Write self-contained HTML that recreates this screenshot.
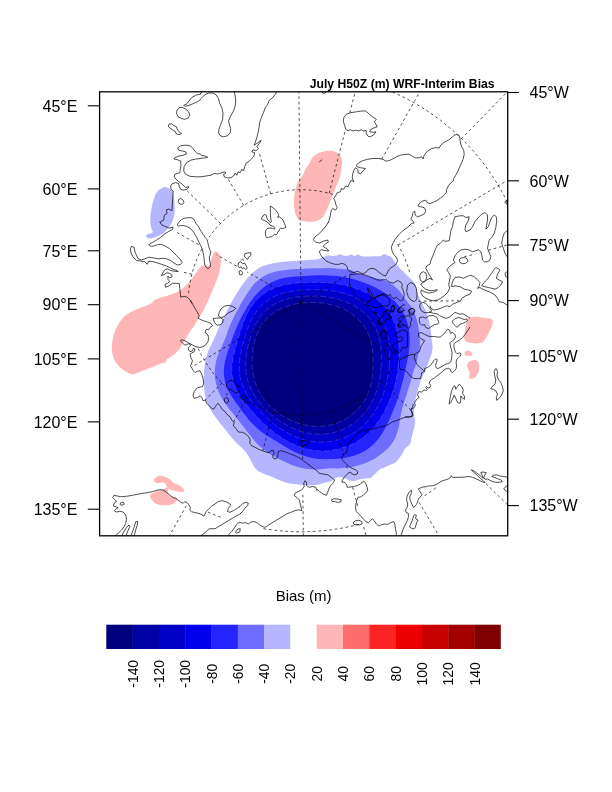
<!DOCTYPE html><html><head><meta charset="utf-8"><title>July H50Z (m) WRF-Interim Bias</title>
<style>html,body{margin:0;padding:0;background:#fff;overflow:hidden}svg{display:block}text{font-family:"Liberation Sans",sans-serif;fill:#000}</style></head><body>
<svg width="612" height="792" viewBox="0 0 612 792">
<rect width="612" height="792" fill="#fff"/>
<defs><clipPath id="fr"><rect x="99.6" y="91.8" width="408.1" height="444.0"/></clipPath></defs>
<g clip-path="url(#fr)">
<path d="M318.0 259.0C321.3 258.4 322.3 257.4 323.9 256.8C325.5 256.2 326.3 255.5 327.8 255.4C329.3 255.3 331.5 256.0 333.0 256.0C334.5 256.0 335.8 255.9 337.0 255.6C338.2 255.3 339.3 254.2 340.5 254.2C341.7 254.2 342.8 255.5 344.0 255.8C345.2 256.1 346.3 256.2 347.5 256.0C348.7 255.8 349.8 254.4 351.0 254.4C352.2 254.4 353.3 256.0 354.5 256.0C355.7 256.0 356.8 254.5 358.0 254.5C359.2 254.5 360.0 255.9 362.0 256.2C364.0 256.5 367.3 256.4 370.0 256.4C372.7 256.4 376.1 256.4 378.0 256.3C379.9 256.2 380.5 256.2 381.5 255.8C382.5 255.4 383.2 253.9 384.2 253.8C385.2 253.8 386.4 255.1 387.5 255.5C388.6 255.9 389.5 255.8 390.5 256.5C391.5 257.2 392.4 258.2 393.5 259.7C394.6 261.2 395.9 263.8 397.4 265.6C398.9 267.4 400.5 268.7 402.3 270.5C404.1 272.3 406.4 274.6 408.2 276.4C410.0 278.2 411.8 279.5 413.1 281.3C414.4 283.1 415.2 284.9 416.0 287.2C416.8 289.5 417.0 292.4 418.0 295.0C419.0 297.6 420.6 300.3 421.9 302.9C423.2 305.5 424.6 307.8 425.8 310.7C427.0 313.6 428.0 317.2 428.8 320.5C429.6 323.8 430.2 327.0 430.7 330.3C431.2 333.6 431.4 337.2 431.7 340.1C432.0 343.1 432.8 345.2 432.6 348.0C432.4 350.8 431.4 354.2 430.5 357.0C429.6 359.8 428.6 362.3 427.5 365.0C426.4 367.7 425.1 370.5 424.0 373.0C422.9 375.5 422.0 377.2 421.0 380.0C420.0 382.8 419.0 386.2 418.0 389.8C417.0 393.4 415.7 397.7 415.0 401.6C414.3 405.5 414.0 410.0 414.0 413.3C414.0 416.6 415.0 418.6 415.0 421.2C415.0 423.8 414.6 426.4 414.0 429.0C413.4 431.6 412.3 434.4 411.7 436.9C411.1 439.3 411.3 441.8 410.2 443.7C409.1 445.6 406.8 446.6 405.3 448.6C403.8 450.6 402.8 453.4 401.3 455.5C399.8 457.6 398.0 459.9 396.4 461.4C394.8 462.9 393.4 463.3 391.5 464.3C389.6 465.3 386.8 466.3 384.7 467.3C382.6 468.3 380.6 468.9 378.8 470.2C377.0 471.5 375.4 473.8 373.9 475.1C372.4 476.4 372.0 477.4 370.0 478.0C368.0 478.6 364.4 478.6 362.1 479.0C359.8 479.4 358.0 480.1 356.2 480.4C354.4 480.7 353.1 481.3 351.3 481.0C349.5 480.7 347.4 479.2 345.5 478.5C343.6 477.8 341.4 477.0 339.6 477.0C337.8 477.0 336.0 477.8 334.7 478.5C333.4 479.2 333.5 480.2 331.7 481.0C329.9 481.8 326.7 482.3 323.9 483.0C321.1 483.7 318.2 484.7 315.0 485.0C311.8 485.3 309.4 485.3 304.8 485.0C300.2 484.7 292.4 484.2 287.2 483.0C282.0 481.8 278.0 479.5 273.4 477.6C268.8 475.7 263.0 473.8 259.7 471.8C256.4 469.9 256.1 469.2 253.8 465.9C251.5 462.6 249.3 456.4 246.0 452.2C242.7 447.9 237.8 444.3 234.2 440.4C230.6 436.5 228.0 433.2 224.4 428.6C220.8 424.0 215.7 417.8 212.6 412.9C209.5 408.0 207.3 404.8 205.8 399.2C204.3 393.6 204.0 385.5 203.8 379.6C203.7 373.7 204.3 368.3 204.9 363.9C205.5 359.5 206.4 356.1 207.5 353.0C208.5 349.9 210.0 347.9 211.2 345.1C212.5 342.2 213.9 339.3 215.2 336.2C216.6 333.1 218.0 329.6 219.5 326.4C221.0 323.2 222.5 320.0 224.0 316.9C225.5 313.7 227.0 310.8 228.5 307.8C230.1 304.8 231.6 301.8 233.3 298.9C235.0 296.0 236.7 293.1 238.5 290.4C240.2 287.6 242.2 284.8 244.1 282.3C246.0 279.8 247.9 277.5 250.0 275.4C252.1 273.3 254.4 271.1 256.8 269.5C259.2 267.9 261.4 266.7 264.7 265.6C268.0 264.5 272.1 263.4 276.4 262.7C280.6 262.0 285.6 261.7 290.2 261.3C294.8 260.9 299.3 260.6 303.9 260.2C308.5 259.8 314.7 259.6 318.0 259.0Z" fill="#b6b6ff"/>
<path d="M318.0 268.3C322.3 268.2 325.9 267.9 329.8 268.0C333.7 268.1 337.8 268.7 341.5 269.1C345.2 269.5 349.7 269.8 352.3 270.5C354.9 271.2 355.1 272.7 357.2 273.5C359.3 274.3 361.7 274.6 365.0 275.4C368.3 276.2 373.2 277.4 376.8 278.4C380.4 279.4 383.7 280.0 386.6 281.3C389.5 282.6 392.1 284.4 394.4 286.2C396.7 288.0 398.5 289.9 400.3 292.0C402.1 294.1 403.5 296.4 405.3 298.9C407.1 301.4 409.5 304.2 411.1 306.8C412.7 309.4 413.9 311.7 415.0 314.6C416.1 317.5 417.3 321.1 418.0 324.4C418.7 327.7 419.0 330.6 419.3 334.2C419.6 337.8 420.0 342.4 419.8 346.0C419.6 349.6 418.7 352.8 418.0 356.0C417.3 359.2 416.6 362.2 415.8 365.0C415.0 367.8 413.8 370.5 413.0 373.0C412.2 375.5 411.9 377.2 411.1 380.0C410.3 382.8 409.0 386.5 408.0 389.8C407.0 393.1 406.0 396.3 405.0 399.6C404.0 402.9 402.8 406.1 402.0 409.4C401.2 412.7 400.5 416.2 400.0 419.2C399.5 422.1 399.4 424.5 398.8 427.1C398.2 429.7 397.4 432.3 396.4 434.9C395.3 437.5 394.1 440.2 392.5 442.7C390.9 445.1 388.6 447.6 386.6 449.6C384.6 451.6 382.6 453.0 380.7 454.5C378.8 456.0 376.8 457.2 374.9 458.4C372.9 459.5 371.1 460.4 369.0 461.4C366.9 462.4 364.4 463.5 362.1 464.3C359.8 465.1 357.8 465.8 355.3 466.3C352.9 466.8 350.3 467.1 347.4 467.5C344.4 467.9 340.9 468.2 337.6 468.4C334.3 468.5 331.6 468.2 327.8 468.4C324.0 468.6 319.5 469.6 315.0 469.5C310.5 469.4 305.5 468.9 300.9 467.8C296.3 466.7 291.8 464.8 287.2 462.9C282.6 460.9 278.0 458.9 273.4 456.1C268.8 453.3 263.9 450.2 259.7 446.3C255.4 442.4 251.7 437.1 247.9 432.5C244.2 427.9 240.8 423.4 237.2 418.8C233.6 414.2 229.5 409.7 226.4 405.1C223.3 400.5 220.4 396.3 218.5 391.4C216.6 386.5 215.2 380.4 214.8 375.7C214.4 371.0 215.2 366.9 215.8 363.2C216.4 359.5 217.4 356.5 218.5 353.5C219.6 350.5 221.1 348.2 222.4 345.3C223.7 342.4 224.9 339.3 226.1 336.2C227.3 333.1 228.4 329.8 229.6 326.6C230.9 323.5 232.2 320.6 233.6 317.6C235.0 314.6 236.6 311.6 238.2 308.7C239.7 305.8 241.4 302.9 243.1 300.1C244.7 297.4 246.4 294.7 248.2 292.1C250.1 289.4 251.8 286.5 253.9 284.2C256.0 281.9 258.2 280.1 260.7 278.4C263.1 276.7 265.7 275.0 268.6 273.8C271.6 272.6 274.8 271.8 278.4 271.1C282.0 270.4 285.9 269.9 290.2 269.5C294.4 269.1 299.3 269.0 303.9 268.8C308.5 268.6 313.7 268.4 318.0 268.3Z" fill="#6d6dff"/>
<path d="M406.4 365.0C405.9 367.2 405.4 369.4 404.9 371.5C404.5 373.6 404.0 375.8 403.5 377.9C403.0 380.0 402.5 382.0 401.9 384.1C401.4 386.2 400.8 388.3 400.3 390.3C399.7 392.4 399.1 394.4 398.4 396.5C397.8 398.5 397.1 400.5 396.3 402.5C395.6 404.6 394.8 406.6 394.0 408.6C393.2 410.6 392.4 412.7 391.5 414.7C390.7 416.7 389.8 418.8 388.8 420.8C387.9 422.8 386.9 424.9 385.8 426.9C384.7 428.9 383.6 431.0 382.4 433.0C381.1 434.9 379.8 436.9 378.4 438.7C376.9 440.6 375.4 442.4 373.7 444.0C372.0 445.6 370.2 447.2 368.4 448.6C366.5 449.9 364.4 451.2 362.4 452.2C360.3 453.3 358.1 454.2 355.9 455.0C353.7 455.8 351.4 456.4 349.1 456.9C346.9 457.4 344.6 457.8 342.3 458.2C340.0 458.5 337.7 458.7 335.4 458.9C333.1 459.0 330.9 459.1 328.6 459.1C326.3 459.2 324.1 459.1 321.9 459.0C319.7 458.9 317.4 458.7 315.3 458.4C313.1 458.1 310.9 457.7 308.8 457.2C306.7 456.6 304.6 456.0 302.5 455.3C300.5 454.6 298.5 453.7 296.5 452.8C294.6 452.0 292.7 451.0 290.8 450.0C289.0 449.0 287.2 447.9 285.4 446.9C283.6 445.8 281.9 444.7 280.2 443.7C278.5 442.7 276.8 441.6 275.1 440.6C273.4 439.6 271.8 438.6 270.1 437.6C268.5 436.5 266.8 435.5 265.2 434.4C263.6 433.3 262.0 432.2 260.4 431.0C258.9 429.8 257.4 428.5 256.0 427.2C254.5 425.9 253.1 424.5 251.8 423.1C250.5 421.7 249.2 420.2 248.0 418.7C246.8 417.2 245.6 415.7 244.4 414.1C243.2 412.6 242.1 411.0 240.9 409.4C239.8 407.8 238.6 406.3 237.4 404.6C236.3 403.0 235.1 401.4 234.0 399.7C232.8 398.1 231.7 396.4 230.6 394.6C229.6 392.9 228.6 391.0 227.7 389.2C226.9 387.3 226.1 385.4 225.5 383.4C224.9 381.4 224.4 379.4 224.2 377.3C223.9 375.3 223.8 373.2 223.8 371.2C223.9 369.1 224.1 367.0 224.4 365.0C224.7 363.0 225.1 360.9 225.6 359.0C226.1 357.0 226.7 355.0 227.3 353.1C227.9 351.2 228.5 349.3 229.2 347.4C229.8 345.5 230.5 343.7 231.1 341.8C231.8 340.0 232.4 338.1 233.1 336.3C233.8 334.5 234.5 332.6 235.2 330.8C235.9 329.0 236.7 327.2 237.5 325.4C238.3 323.6 239.1 321.8 240.0 320.0C240.9 318.2 241.8 316.4 242.7 314.7C243.7 312.9 244.7 311.1 245.7 309.4C246.8 307.6 247.8 305.9 249.0 304.1C250.1 302.4 251.3 300.7 252.6 299.0C253.8 297.3 255.2 295.6 256.6 294.1C258.0 292.5 259.5 290.9 261.1 289.5C262.7 288.1 264.3 286.7 266.1 285.5C267.9 284.3 269.7 283.2 271.6 282.2C273.5 281.3 275.6 280.5 277.6 279.8C279.6 279.1 281.7 278.6 283.8 278.1C285.9 277.7 288.0 277.3 290.1 277.1C292.2 276.8 294.3 276.6 296.4 276.4C298.5 276.3 300.6 276.2 302.6 276.0C304.7 275.9 306.8 275.8 308.9 275.7C311.0 275.6 313.0 275.6 315.1 275.5C317.2 275.4 319.3 275.4 321.4 275.3C323.5 275.3 325.7 275.3 327.8 275.4C329.9 275.5 332.1 275.6 334.2 275.8C336.4 276.0 338.6 276.2 340.7 276.6C342.9 276.9 345.1 277.3 347.3 277.7C349.4 278.2 351.6 278.7 353.8 279.3C356.0 279.9 358.2 280.6 360.3 281.3C362.5 282.0 364.7 282.8 366.8 283.7C369.0 284.6 371.2 285.5 373.3 286.5C375.5 287.5 377.6 288.7 379.7 289.9C381.7 291.1 383.8 292.4 385.8 293.8C387.7 295.2 389.7 296.7 391.5 298.3C393.3 299.9 395.1 301.7 396.7 303.5C398.3 305.3 399.8 307.3 401.1 309.3C402.5 311.3 403.7 313.5 404.7 315.7C405.8 317.9 406.7 320.2 407.4 322.5C408.1 324.9 408.6 327.3 409.0 329.7C409.4 332.1 409.6 334.5 409.7 337.0C409.8 339.4 409.8 341.8 409.6 344.3C409.5 346.7 409.2 349.0 408.9 351.4C408.6 353.7 408.2 356.0 407.7 358.3C407.3 360.6 406.9 362.8 406.4 365.0Z" fill="#2424ff"/>
<path d="M398.4 365.0C398.2 367.0 398.0 369.0 397.7 371.0C397.4 373.0 397.1 374.9 396.7 376.9C396.3 378.9 395.9 380.8 395.4 382.7C395.0 384.7 394.4 386.6 393.9 388.5C393.3 390.4 392.7 392.3 392.0 394.1C391.3 396.0 390.6 397.8 389.9 399.7C389.1 401.5 388.3 403.3 387.5 405.1C386.7 407.0 385.8 408.8 384.9 410.5C383.9 412.3 383.0 414.1 381.9 415.8C380.9 417.5 379.8 419.3 378.6 420.9C377.5 422.6 376.3 424.2 375.0 425.8C373.7 427.4 372.4 429.0 370.9 430.5C369.5 431.9 368.0 433.4 366.5 434.7C364.9 436.1 363.3 437.3 361.6 438.5C359.9 439.7 358.2 440.8 356.4 441.9C354.6 442.9 352.7 443.8 350.9 444.7C349.0 445.6 347.1 446.3 345.1 447.0C343.2 447.7 341.2 448.3 339.2 448.8C337.3 449.3 335.2 449.8 333.2 450.1C331.2 450.4 329.2 450.7 327.1 450.8C325.1 450.9 323.1 451.0 321.0 450.9C319.0 450.9 317.0 450.7 315.0 450.5C313.0 450.2 311.0 449.9 309.0 449.5C307.1 449.1 305.2 448.5 303.3 448.0C301.4 447.4 299.5 446.7 297.7 446.0C295.9 445.3 294.1 444.5 292.4 443.7C290.6 442.9 288.9 442.0 287.3 441.1C285.6 440.1 284.0 439.2 282.4 438.2C280.8 437.2 279.3 436.2 277.8 435.1C276.3 434.1 274.8 433.0 273.4 431.8C272.0 430.7 270.6 429.6 269.2 428.4C267.9 427.3 266.5 426.1 265.2 424.9C263.9 423.6 262.7 422.4 261.4 421.2C260.2 419.9 259.0 418.6 257.8 417.4C256.6 416.1 255.4 414.8 254.2 413.5C253.0 412.2 251.8 410.9 250.7 409.6C249.5 408.2 248.3 406.9 247.2 405.5C246.0 404.1 244.9 402.7 243.8 401.3C242.7 399.8 241.6 398.3 240.6 396.8C239.5 395.3 238.5 393.7 237.7 392.1C236.8 390.4 235.9 388.7 235.2 387.0C234.5 385.3 233.9 383.5 233.4 381.7C232.9 379.9 232.5 378.1 232.2 376.2C231.9 374.4 231.8 372.5 231.8 370.6C231.7 368.7 231.8 366.9 232.0 365.0C232.2 363.1 232.4 361.3 232.8 359.5C233.1 357.6 233.5 355.8 233.9 354.0C234.3 352.2 234.8 350.5 235.3 348.7C235.8 346.9 236.3 345.2 236.8 343.4C237.3 341.7 237.8 339.9 238.3 338.2C238.9 336.4 239.4 334.7 240.0 332.9C240.5 331.2 241.1 329.4 241.7 327.6C242.3 325.8 242.9 324.0 243.6 322.2C244.3 320.5 245.0 318.7 245.8 316.9C246.6 315.1 247.5 313.4 248.4 311.6C249.4 309.9 250.4 308.2 251.5 306.6C252.6 304.9 253.8 303.3 255.1 301.8C256.4 300.3 257.8 298.8 259.3 297.5C260.7 296.1 262.3 294.9 263.9 293.7C265.5 292.5 267.2 291.5 269.0 290.5C270.7 289.5 272.6 288.7 274.4 287.9C276.3 287.2 278.2 286.6 280.1 286.0C282.0 285.4 283.9 285.0 285.9 284.6C287.8 284.2 289.8 283.9 291.7 283.7C293.7 283.4 295.6 283.2 297.6 283.1C299.5 282.9 301.4 282.8 303.4 282.7C305.3 282.6 307.2 282.6 309.1 282.5C311.0 282.4 313.0 282.4 314.9 282.4C316.8 282.4 318.7 282.4 320.7 282.4C322.6 282.5 324.6 282.5 326.5 282.7C328.5 282.8 330.4 282.9 332.4 283.1C334.4 283.3 336.4 283.6 338.4 283.9C340.3 284.2 342.3 284.6 344.3 285.0C346.3 285.5 348.3 286.0 350.3 286.5C352.2 287.1 354.2 287.7 356.2 288.5C358.1 289.2 360.1 290.0 362.0 290.8C364.0 291.7 365.9 292.6 367.8 293.6C369.6 294.7 371.5 295.8 373.3 296.9C375.1 298.1 376.8 299.4 378.5 300.8C380.2 302.2 381.8 303.6 383.3 305.2C384.8 306.7 386.2 308.4 387.5 310.1C388.8 311.9 390.0 313.7 391.1 315.6C392.2 317.5 393.1 319.4 393.9 321.4C394.8 323.4 395.5 325.5 396.1 327.6C396.7 329.6 397.2 331.7 397.6 333.9C398.0 336.0 398.3 338.1 398.5 340.2C398.7 342.3 398.8 344.4 398.9 346.5C399.0 348.6 399.1 350.7 399.0 352.8C399.0 354.8 399.0 356.9 398.9 358.9C398.7 361.0 398.6 363.0 398.4 365.0Z" fill="#0000ed"/>
<path d="M389.3 365.0C389.1 366.8 389.0 368.6 388.8 370.4C388.6 372.1 388.3 373.9 388.0 375.7C387.7 377.4 387.4 379.2 387.0 380.9C386.7 382.7 386.2 384.4 385.8 386.2C385.3 387.9 384.8 389.6 384.2 391.3C383.7 393.0 383.1 394.7 382.4 396.4C381.8 398.0 381.1 399.7 380.3 401.3C379.6 403.0 378.8 404.6 377.9 406.2C377.1 407.8 376.2 409.4 375.2 410.9C374.3 412.5 373.3 414.0 372.2 415.5C371.1 417.0 370.0 418.5 368.8 419.9C367.6 421.3 366.4 422.6 365.1 423.9C363.7 425.2 362.4 426.5 361.0 427.7C359.5 428.8 358.1 430.0 356.5 431.0C355.0 432.1 353.4 433.0 351.8 434.0C350.2 434.9 348.5 435.7 346.9 436.5C345.2 437.2 343.5 437.9 341.7 438.5C340.0 439.2 338.2 439.7 336.4 440.2C334.6 440.6 332.8 441.0 331.0 441.3C329.2 441.6 327.4 441.8 325.6 442.0C323.7 442.1 321.9 442.1 320.1 442.1C318.3 442.1 316.5 442.0 314.7 441.8C312.9 441.6 311.1 441.3 309.3 441.0C307.6 440.7 305.8 440.2 304.1 439.8C302.4 439.3 300.8 438.7 299.1 438.1C297.5 437.6 295.8 436.9 294.2 436.2C292.7 435.5 291.1 434.8 289.6 434.0C288.1 433.2 286.6 432.4 285.1 431.6C283.7 430.7 282.2 429.8 280.8 428.9C279.4 428.0 278.1 427.1 276.7 426.1C275.4 425.1 274.1 424.1 272.8 423.1C271.5 422.1 270.3 421.0 269.1 419.9C267.9 418.9 266.7 417.8 265.5 416.6C264.3 415.5 263.2 414.4 262.1 413.2C260.9 412.1 259.8 410.9 258.8 409.7C257.7 408.5 256.6 407.3 255.6 406.0C254.5 404.8 253.5 403.5 252.5 402.2C251.5 400.9 250.5 399.6 249.5 398.2C248.6 396.9 247.6 395.5 246.8 394.0C245.9 392.6 245.1 391.1 244.3 389.6C243.6 388.1 242.9 386.6 242.3 385.0C241.7 383.4 241.1 381.8 240.7 380.2C240.3 378.5 239.9 376.8 239.7 375.2C239.4 373.5 239.3 371.8 239.2 370.1C239.1 368.4 239.2 366.7 239.2 365.0C239.3 363.3 239.5 361.6 239.7 359.9C239.9 358.3 240.2 356.6 240.5 355.0C240.8 353.3 241.2 351.7 241.5 350.0C241.9 348.4 242.3 346.8 242.7 345.1C243.1 343.5 243.5 341.9 244.0 340.2C244.4 338.6 244.9 337.0 245.4 335.4C245.9 333.7 246.4 332.1 247.0 330.4C247.6 328.8 248.2 327.2 248.8 325.5C249.5 323.9 250.2 322.3 251.0 320.7C251.8 319.1 252.6 317.5 253.5 315.9C254.5 314.4 255.5 312.9 256.5 311.4C257.6 310.0 258.7 308.6 260.0 307.2C261.2 305.9 262.5 304.6 263.9 303.4C265.2 302.2 266.7 301.1 268.2 300.1C269.7 299.0 271.3 298.1 272.9 297.2C274.5 296.4 276.1 295.6 277.8 294.9C279.5 294.3 281.2 293.7 283.0 293.2C284.7 292.6 286.5 292.2 288.2 291.8C290.0 291.5 291.8 291.2 293.5 290.9C295.3 290.7 297.1 290.5 298.8 290.3C300.6 290.1 302.3 290.0 304.1 289.9C305.9 289.8 307.6 289.7 309.4 289.7C311.1 289.6 312.9 289.6 314.6 289.6C316.4 289.6 318.1 289.7 319.9 289.7C321.7 289.8 323.4 289.9 325.2 290.0C327.0 290.2 328.8 290.4 330.6 290.6C332.3 290.8 334.1 291.1 335.9 291.4C337.7 291.8 339.5 292.2 341.2 292.6C343.0 293.1 344.8 293.6 346.6 294.1C348.3 294.7 350.1 295.3 351.8 296.0C353.6 296.7 355.3 297.5 357.0 298.3C358.7 299.1 360.4 300.0 362.0 301.0C363.7 301.9 365.3 303.0 366.9 304.1C368.4 305.2 370.0 306.4 371.4 307.6C372.9 308.9 374.3 310.2 375.6 311.7C376.9 313.1 378.1 314.6 379.3 316.1C380.4 317.7 381.4 319.3 382.4 321.0C383.3 322.7 384.2 324.5 384.9 326.2C385.6 328.0 386.3 329.9 386.8 331.7C387.3 333.5 387.8 335.4 388.2 337.3C388.5 339.2 388.8 341.0 389.0 342.9C389.2 344.8 389.4 346.7 389.5 348.5C389.6 350.4 389.6 352.2 389.7 354.1C389.7 355.9 389.6 357.8 389.6 359.6C389.5 361.4 389.4 363.2 389.3 365.0Z" fill="#0000c8"/>
<path d="M381.2 365.0C381.1 366.6 381.0 368.2 380.8 369.8C380.7 371.4 380.5 373.0 380.3 374.6C380.1 376.2 379.8 377.8 379.6 379.4C379.3 380.9 379.0 382.5 378.6 384.1C378.2 385.7 377.8 387.2 377.4 388.8C376.9 390.3 376.4 391.9 375.8 393.4C375.3 394.9 374.6 396.5 374.0 398.0C373.3 399.4 372.6 400.9 371.8 402.4C371.0 403.8 370.2 405.2 369.3 406.6C368.4 408.0 367.5 409.4 366.5 410.7C365.5 412.0 364.4 413.3 363.3 414.5C362.2 415.8 361.0 417.0 359.8 418.1C358.6 419.3 357.4 420.4 356.1 421.4C354.8 422.4 353.4 423.4 352.0 424.3C350.6 425.3 349.2 426.1 347.8 426.9C346.3 427.7 344.8 428.5 343.3 429.2C341.8 429.8 340.2 430.4 338.7 431.0C337.1 431.5 335.5 432.0 333.9 432.4C332.3 432.9 330.7 433.2 329.1 433.5C327.5 433.8 325.8 434.0 324.2 434.1C322.6 434.2 320.9 434.3 319.3 434.3C317.7 434.3 316.0 434.2 314.4 434.1C312.8 433.9 311.2 433.7 309.6 433.4C308.0 433.2 306.5 432.8 304.9 432.5C303.4 432.1 301.8 431.6 300.3 431.1C298.8 430.7 297.4 430.1 295.9 429.6C294.5 429.0 293.0 428.4 291.6 427.7C290.2 427.1 288.8 426.4 287.5 425.7C286.1 424.9 284.8 424.2 283.5 423.4C282.2 422.6 280.9 421.8 279.7 421.0C278.4 420.1 277.2 419.3 276.0 418.4C274.8 417.5 273.6 416.5 272.5 415.6C271.3 414.6 270.2 413.6 269.1 412.6C268.0 411.6 266.9 410.6 265.9 409.5C264.8 408.5 263.8 407.4 262.8 406.3C261.8 405.1 260.9 404.0 259.9 402.8C259.0 401.7 258.1 400.5 257.2 399.3C256.3 398.0 255.4 396.8 254.6 395.5C253.8 394.2 253.0 392.9 252.3 391.6C251.6 390.2 250.9 388.9 250.3 387.5C249.6 386.1 249.1 384.6 248.5 383.2C248.0 381.7 247.6 380.3 247.2 378.8C246.9 377.3 246.6 375.8 246.3 374.2C246.1 372.7 245.9 371.2 245.8 369.6C245.7 368.1 245.7 366.5 245.7 365.0C245.7 363.5 245.8 361.9 245.9 360.4C246.0 358.8 246.2 357.3 246.4 355.8C246.6 354.2 246.8 352.7 247.1 351.2C247.3 349.7 247.6 348.2 248.0 346.6C248.3 345.1 248.6 343.6 249.0 342.1C249.4 340.6 249.8 339.0 250.3 337.5C250.7 336.0 251.2 334.5 251.8 333.0C252.3 331.5 252.9 329.9 253.5 328.5C254.2 327.0 254.9 325.5 255.6 324.0C256.4 322.6 257.2 321.2 258.1 319.8C259.0 318.4 260.0 317.0 261.0 315.7C262.0 314.5 263.1 313.2 264.3 312.0C265.5 310.8 266.7 309.7 268.0 308.7C269.3 307.6 270.6 306.6 272.0 305.7C273.4 304.8 274.8 304.0 276.3 303.2C277.8 302.4 279.3 301.8 280.9 301.1C282.4 300.5 284.0 300.0 285.5 299.5C287.1 299.0 288.7 298.6 290.3 298.3C291.9 297.9 293.5 297.6 295.1 297.3C296.7 297.1 298.3 296.9 300.0 296.7C301.6 296.5 303.2 296.4 304.8 296.3C306.4 296.2 308.0 296.1 309.6 296.1C311.2 296.0 312.8 296.0 314.4 296.0C316.0 296.1 317.6 296.1 319.2 296.2C320.8 296.3 322.5 296.4 324.1 296.6C325.7 296.8 327.3 297.0 328.9 297.2C330.5 297.5 332.1 297.8 333.7 298.1C335.3 298.5 336.9 298.9 338.5 299.4C340.1 299.8 341.7 300.3 343.3 300.9C344.8 301.4 346.4 302.1 348.0 302.7C349.5 303.4 351.0 304.1 352.5 304.9C354.0 305.7 355.5 306.6 356.9 307.5C358.4 308.4 359.8 309.4 361.2 310.4C362.5 311.4 363.9 312.5 365.1 313.7C366.4 314.9 367.6 316.1 368.7 317.4C369.9 318.7 370.9 320.1 371.9 321.5C372.9 322.9 373.8 324.4 374.6 325.9C375.5 327.4 376.2 328.9 376.8 330.5C377.5 332.1 378.1 333.7 378.5 335.4C379.0 337.0 379.4 338.7 379.8 340.3C380.1 342.0 380.4 343.7 380.6 345.3C380.8 347.0 381.0 348.7 381.1 350.3C381.2 352.0 381.3 353.6 381.3 355.3C381.4 356.9 381.4 358.5 381.3 360.2C381.3 361.8 381.2 363.4 381.2 365.0Z" fill="#0000a4"/>
<path d="M373.0 365.0C373.0 366.4 373.0 367.8 372.9 369.3C372.8 370.7 372.7 372.1 372.6 373.5C372.4 374.9 372.3 376.4 372.1 377.8C371.9 379.2 371.7 380.6 371.4 382.0C371.1 383.5 370.8 384.9 370.5 386.3C370.1 387.7 369.7 389.1 369.2 390.5C368.7 391.8 368.2 393.2 367.6 394.6C367.0 395.9 366.4 397.2 365.7 398.5C365.0 399.8 364.2 401.1 363.4 402.3C362.5 403.5 361.7 404.7 360.7 405.9C359.8 407.0 358.8 408.2 357.8 409.2C356.8 410.3 355.7 411.3 354.6 412.3C353.5 413.3 352.3 414.2 351.2 415.1C350.0 416.0 348.8 416.9 347.5 417.7C346.3 418.5 345.0 419.2 343.7 419.9C342.4 420.6 341.1 421.2 339.7 421.8C338.4 422.4 337.0 423.0 335.6 423.4C334.2 423.9 332.8 424.4 331.4 424.7C330.0 425.1 328.6 425.4 327.1 425.7C325.7 425.9 324.2 426.1 322.8 426.2C321.4 426.4 319.9 426.4 318.5 426.5C317.0 426.5 315.6 426.4 314.1 426.3C312.7 426.3 311.3 426.1 309.9 425.9C308.5 425.7 307.1 425.5 305.7 425.2C304.3 424.9 302.9 424.5 301.6 424.2C300.2 423.8 298.9 423.4 297.6 422.9C296.2 422.4 294.9 422.0 293.7 421.4C292.4 420.9 291.1 420.3 289.9 419.8C288.6 419.2 287.4 418.6 286.2 417.9C285.0 417.3 283.8 416.6 282.6 415.9C281.5 415.1 280.3 414.4 279.2 413.6C278.1 412.9 277.0 412.1 275.9 411.2C274.8 410.4 273.8 409.5 272.7 408.6C271.7 407.7 270.7 406.8 269.7 405.8C268.7 404.9 267.8 403.9 266.9 402.8C266.0 401.8 265.1 400.8 264.3 399.7C263.4 398.6 262.6 397.5 261.9 396.3C261.1 395.2 260.4 394.0 259.7 392.8C259.0 391.6 258.4 390.4 257.8 389.1C257.2 387.9 256.7 386.6 256.2 385.3C255.7 384.0 255.2 382.7 254.8 381.4C254.4 380.1 254.1 378.7 253.8 377.4C253.4 376.0 253.2 374.7 253.0 373.3C252.7 371.9 252.6 370.5 252.4 369.2C252.3 367.8 252.2 366.4 252.1 365.0C252.1 363.6 252.1 362.2 252.1 360.8C252.1 359.4 252.2 358.0 252.3 356.6C252.3 355.2 252.5 353.8 252.6 352.4C252.8 351.0 253.0 349.6 253.2 348.1C253.5 346.7 253.7 345.3 254.0 343.9C254.4 342.5 254.7 341.1 255.1 339.7C255.5 338.3 256.0 336.9 256.5 335.5C257.0 334.1 257.6 332.7 258.2 331.4C258.8 330.0 259.5 328.7 260.2 327.4C261.0 326.1 261.8 324.8 262.7 323.6C263.5 322.4 264.5 321.2 265.5 320.1C266.5 318.9 267.5 317.8 268.6 316.8C269.7 315.8 270.9 314.8 272.1 313.9C273.3 313.0 274.5 312.2 275.8 311.4C277.1 310.6 278.4 309.9 279.8 309.2C281.1 308.5 282.5 307.9 283.9 307.4C285.3 306.8 286.7 306.3 288.1 305.9C289.5 305.4 291.0 305.0 292.4 304.7C293.8 304.3 295.3 304.0 296.7 303.8C298.2 303.5 299.6 303.3 301.1 303.1C302.5 302.9 304.0 302.8 305.4 302.7C306.9 302.5 308.4 302.5 309.8 302.4C311.3 302.4 312.7 302.4 314.2 302.4C315.6 302.5 317.1 302.6 318.6 302.7C320.0 302.8 321.5 302.9 322.9 303.1C324.4 303.3 325.8 303.6 327.2 303.9C328.7 304.2 330.1 304.5 331.5 304.9C333.0 305.2 334.4 305.6 335.8 306.1C337.2 306.6 338.6 307.1 340.0 307.6C341.4 308.2 342.7 308.8 344.1 309.4C345.4 310.1 346.7 310.8 348.0 311.6C349.3 312.3 350.6 313.1 351.9 314.0C353.1 314.8 354.3 315.8 355.5 316.7C356.6 317.7 357.8 318.7 358.8 319.8C359.9 320.9 360.9 322.0 361.9 323.1C362.8 324.3 363.7 325.5 364.6 326.8C365.4 328.1 366.2 329.4 366.9 330.7C367.6 332.0 368.2 333.4 368.8 334.8C369.4 336.2 369.9 337.6 370.3 339.0C370.7 340.5 371.1 341.9 371.4 343.4C371.7 344.8 372.0 346.3 372.2 347.7C372.4 349.2 372.6 350.6 372.7 352.1C372.8 353.5 372.9 355.0 373.0 356.4C373.0 357.9 373.1 359.3 373.1 360.7C373.1 362.2 373.1 363.6 373.0 365.0Z" fill="#00007f"/>
<path d="M216.3 251.7C217.4 252.1 219.5 254.1 220.3 255.7C221.1 257.3 220.9 259.5 220.9 261.4C220.9 263.3 220.6 265.3 220.3 267.2C220.0 269.1 219.8 270.8 219.2 272.9C218.6 275.0 217.8 277.4 216.9 279.7C216.0 282.0 214.9 284.3 214.0 286.6C213.1 288.9 212.1 291.2 211.2 293.5C210.2 295.8 209.4 298.0 208.3 300.3C207.2 302.6 206.0 304.9 204.9 307.2C203.8 309.5 202.6 312.2 201.5 314.1C200.4 316.0 199.7 316.8 198.6 318.6C197.5 320.4 196.2 322.8 194.8 324.9C193.4 327.0 191.4 329.2 189.9 331.5C188.4 333.8 187.2 336.5 185.8 338.8C184.4 341.1 183.2 343.2 181.7 345.4C180.2 347.6 178.4 350.1 176.8 351.9C175.2 353.7 173.5 354.8 171.9 356.0C170.3 357.2 167.9 358.2 167.0 359.2C166.1 360.1 167.0 361.0 166.2 361.7C165.4 362.4 163.9 362.6 162.1 363.3C160.3 364.0 157.8 365.0 155.6 365.8C153.4 366.6 151.2 367.4 149.0 368.2C146.8 369.0 144.5 369.9 142.5 370.7C140.5 371.5 138.4 372.5 136.8 373.1C135.2 373.7 134.3 374.5 132.7 374.4C131.1 374.3 128.9 373.3 127.0 372.3C125.1 371.3 123.0 369.7 121.2 368.2C119.4 366.7 117.7 365.2 116.3 363.3C114.9 361.4 113.8 359.2 113.1 356.8C112.3 354.4 111.9 351.1 111.8 348.6C111.7 346.2 111.9 344.6 112.3 342.1C112.7 339.7 113.1 336.5 113.9 333.9C114.7 331.3 116.0 328.9 117.2 326.6C118.4 324.3 119.6 322.1 121.2 320.0C122.8 317.9 124.8 315.9 127.0 314.3C129.2 312.7 131.7 311.4 134.3 310.2C136.9 309.0 139.8 308.1 142.5 307.0C145.2 305.9 148.5 304.9 150.7 303.7C152.9 302.5 153.1 300.8 155.6 299.6C158.1 298.4 162.1 297.4 165.4 296.3C168.7 295.2 172.5 294.3 175.2 293.1C177.9 291.9 179.5 290.6 181.7 289.0C183.9 287.4 186.2 285.4 188.2 283.3C190.2 281.2 192.1 278.2 193.5 276.3C194.9 274.4 195.8 273.2 196.9 271.7C198.0 270.2 199.1 268.2 200.3 267.2C201.5 266.1 202.9 265.6 204.3 265.4C205.7 265.2 207.9 266.5 208.9 266.0C209.9 265.5 210.1 263.9 210.6 262.6C211.1 261.3 211.3 259.5 211.8 258.0C212.3 256.5 212.8 254.5 213.5 253.4C214.2 252.3 215.2 251.3 216.3 251.7Z" fill="#ffb6b6"/>
<path d="M328.0 150.7C330.6 150.5 333.4 150.9 335.5 151.8C337.6 152.7 339.4 154.3 340.5 156.0C341.6 157.7 342.1 159.6 342.2 161.8C342.3 164.0 341.7 166.7 341.3 169.3C340.9 172.0 340.5 174.9 339.7 177.7C338.9 180.5 337.4 183.2 336.3 186.0C335.2 188.8 334.1 191.5 333.0 194.3C331.9 197.1 330.8 199.9 329.7 202.7C328.6 205.5 327.6 208.5 326.3 211.0C325.1 213.5 323.9 216.0 322.2 217.7C320.5 219.4 318.4 220.3 316.3 221.0C314.2 221.7 311.9 221.8 309.7 221.8C307.5 221.9 304.4 221.4 303.0 221.3C301.6 221.2 301.9 221.5 301.0 221.0C300.1 220.5 298.7 219.9 297.7 218.5C296.7 217.1 295.8 215.1 295.2 212.7C294.6 210.3 294.1 207.1 294.0 204.3C293.9 201.5 294.0 198.8 294.3 196.0C294.6 193.2 295.3 190.2 296.0 187.7C296.7 185.2 297.3 183.2 298.5 181.0C299.7 178.8 301.8 176.4 303.0 174.5C304.2 172.6 304.4 171.3 305.5 169.3C306.6 167.3 308.4 164.8 309.7 162.7C310.9 160.6 311.3 158.5 313.0 156.8C314.7 155.1 317.2 153.7 319.7 152.7C322.2 151.7 325.4 150.8 328.0 150.7Z" fill="#ffb6b6"/>
<path d="M469.2 317.5C470.7 316.9 474.1 316.6 476.7 316.7C479.3 316.8 482.6 317.7 485.0 318.0C487.4 318.3 489.5 318.1 490.8 318.7C492.1 319.3 492.9 320.4 493.0 321.7C493.1 323.0 492.3 325.0 491.7 326.7C491.1 328.4 490.1 329.9 489.2 331.7C488.3 333.5 487.3 335.8 486.3 337.5C485.3 339.2 484.6 340.7 483.3 341.7C482.0 342.7 480.2 343.1 478.3 343.3C476.4 343.5 473.7 343.3 471.7 343.0C469.7 342.7 467.6 342.5 466.3 341.7C465.1 340.9 464.5 340.0 464.2 338.3C463.9 336.6 464.4 333.9 464.7 331.7C465.0 329.5 465.3 326.9 465.8 325.0C466.3 323.1 466.9 321.2 467.5 320.0C468.1 318.8 467.7 318.1 469.2 317.5Z" fill="#ffb6b6"/>
<path d="M464.7 352.5C465.0 351.9 465.9 351.1 466.7 350.8C467.4 350.5 468.4 350.5 469.2 350.8C470.0 351.1 471.1 351.9 471.7 352.5C472.2 353.1 472.8 354.1 472.5 354.7C472.2 355.2 471.0 355.6 470.0 355.8C469.0 356.0 467.6 356.0 466.7 355.8C465.8 355.6 465.0 355.2 464.7 354.7C464.4 354.1 464.4 353.1 464.7 352.5Z" fill="#ffb6b6"/>
<path d="M467.5 363.7C468.1 362.7 469.6 361.4 470.8 360.8C472.1 360.2 473.8 359.9 475.0 360.0C476.2 360.1 477.6 360.6 478.3 361.7C479.0 362.8 479.2 364.9 479.2 366.7C479.2 368.5 478.9 370.8 478.3 372.5C477.7 374.2 476.9 375.7 475.8 376.7C474.7 377.7 472.8 378.6 471.7 378.7C470.6 378.8 469.5 378.4 469.2 377.5C468.9 376.6 469.8 374.7 469.7 373.3C469.6 371.9 468.8 370.3 468.3 369.2C467.9 368.1 467.1 367.6 467.0 366.7C466.9 365.8 466.9 364.7 467.5 363.7Z" fill="#ffb6b6"/>
<path d="M154.0 480.0C154.3 479.2 155.4 477.7 156.5 477.0C157.6 476.3 159.2 475.8 160.7 475.8C162.2 475.8 164.2 476.4 165.7 477.0C167.2 477.6 168.6 478.3 169.8 479.2C171.1 480.1 171.9 481.7 173.2 482.5C174.4 483.3 175.9 483.5 177.3 484.2C178.7 484.9 180.3 485.7 181.5 486.7C182.7 487.7 184.0 489.1 184.3 490.0C184.6 490.9 184.1 491.7 183.2 492.0C182.3 492.3 180.4 491.9 179.0 491.7C177.6 491.5 176.2 491.1 174.8 490.8C173.4 490.5 171.9 490.1 170.7 489.7C169.5 489.3 168.5 489.0 167.7 488.3C166.9 487.6 166.5 486.2 166.0 485.3C165.5 484.4 165.6 483.5 164.8 483.0C164.1 482.5 162.8 482.5 161.5 482.5C160.2 482.5 158.4 483.1 157.3 483.0C156.2 482.9 155.4 482.5 154.8 482.0C154.2 481.5 153.7 480.8 154.0 480.0Z" fill="#ffb6b6"/>
<path d="M150.7 494.2C151.3 493.4 152.8 493.1 154.0 492.5C155.2 491.9 156.9 491.2 158.2 490.8C159.4 490.4 160.5 490.6 161.5 490.3C162.5 490.0 163.2 489.5 164.0 489.0C164.8 488.5 165.8 487.4 166.5 487.5C167.2 487.6 168.3 488.7 168.5 489.5C168.7 490.3 167.6 491.7 167.5 492.5C167.4 493.3 167.5 493.5 168.2 494.2C168.9 494.9 170.4 496.1 171.5 496.7C172.6 497.2 173.8 497.2 174.8 497.5C175.8 497.8 177.1 497.6 177.3 498.3C177.5 499.0 176.7 500.8 176.0 501.7C175.3 502.6 174.4 503.1 173.2 503.7C172.0 504.2 170.5 504.7 169.0 505.0C167.5 505.3 165.7 505.4 164.0 505.3C162.3 505.2 160.5 505.1 159.0 504.7C157.5 504.3 156.0 503.7 154.8 503.0C153.6 502.3 152.8 501.2 152.0 500.3C151.2 499.4 150.5 498.5 150.3 497.5C150.1 496.5 150.1 495.0 150.7 494.2Z" fill="#ffb6b6"/>
<path d="M157.8 191.0C156.1 192.9 155.0 195.6 154.0 198.5C153.0 201.4 152.1 205.2 151.5 208.5C150.9 211.8 150.3 215.4 150.2 218.5C150.2 221.6 150.6 225.0 151.0 227.2C151.4 229.5 153.3 231.1 152.8 232.2C152.2 233.4 148.9 233.3 147.8 234.0C146.6 234.7 145.8 235.8 146.0 236.5C146.2 237.2 147.5 238.4 149.0 238.5C150.5 238.6 153.0 238.1 155.2 237.2C157.5 236.4 160.5 235.2 162.8 233.5C165.0 231.8 167.2 229.8 169.0 227.2C170.8 224.8 172.5 221.6 173.5 218.5C174.5 215.4 174.7 211.8 174.8 208.5C174.8 205.2 174.5 201.4 174.0 198.5C173.5 195.6 173.0 192.8 172.0 191.0C171.0 189.2 169.1 188.4 167.8 187.8C166.4 187.1 165.7 186.7 164.0 187.2C162.3 187.8 159.4 189.1 157.8 191.0Z" fill="#b6b6ff"/>
<path d="M398.4 365.0C398.2 367.0 398.0 369.0 397.7 371.0C397.4 373.0 397.1 374.9 396.7 376.9C396.3 378.9 395.9 380.8 395.4 382.7C395.0 384.7 394.4 386.6 393.9 388.5C393.3 390.4 392.7 392.3 392.0 394.1C391.3 396.0 390.6 397.8 389.9 399.7C389.1 401.5 388.3 403.3 387.5 405.1C386.7 407.0 385.8 408.8 384.9 410.5C383.9 412.3 383.0 414.1 381.9 415.8C380.9 417.5 379.8 419.3 378.6 420.9C377.5 422.6 376.3 424.2 375.0 425.8C373.7 427.4 372.4 429.0 370.9 430.5C369.5 431.9 368.0 433.4 366.5 434.7C364.9 436.1 363.3 437.3 361.6 438.5C359.9 439.7 358.2 440.8 356.4 441.9C354.6 442.9 352.7 443.8 350.9 444.7C349.0 445.6 347.1 446.3 345.1 447.0C343.2 447.7 341.2 448.3 339.2 448.8C337.3 449.3 335.2 449.8 333.2 450.1C331.2 450.4 329.2 450.7 327.1 450.8C325.1 450.9 323.1 451.0 321.0 450.9C319.0 450.9 317.0 450.7 315.0 450.5C313.0 450.2 311.0 449.9 309.0 449.5C307.1 449.1 305.2 448.5 303.3 448.0C301.4 447.4 299.5 446.7 297.7 446.0C295.9 445.3 294.1 444.5 292.4 443.7C290.6 442.9 288.9 442.0 287.3 441.1C285.6 440.1 284.0 439.2 282.4 438.2C280.8 437.2 279.3 436.2 277.8 435.1C276.3 434.1 274.8 433.0 273.4 431.8C272.0 430.7 270.6 429.6 269.2 428.4C267.9 427.3 266.5 426.1 265.2 424.9C263.9 423.6 262.7 422.4 261.4 421.2C260.2 419.9 259.0 418.6 257.8 417.4C256.6 416.1 255.4 414.8 254.2 413.5C253.0 412.2 251.8 410.9 250.7 409.6C249.5 408.2 248.3 406.9 247.2 405.5C246.0 404.1 244.9 402.7 243.8 401.3C242.7 399.8 241.6 398.3 240.6 396.8C239.5 395.3 238.5 393.7 237.7 392.1C236.8 390.4 235.9 388.7 235.2 387.0C234.5 385.3 233.9 383.5 233.4 381.7C232.9 379.9 232.5 378.1 232.2 376.2C231.9 374.4 231.8 372.5 231.8 370.6C231.7 368.7 231.8 366.9 232.0 365.0C232.2 363.1 232.4 361.3 232.8 359.5C233.1 357.6 233.5 355.8 233.9 354.0C234.3 352.2 234.8 350.5 235.3 348.7C235.8 346.9 236.3 345.2 236.8 343.4C237.3 341.7 237.8 339.9 238.3 338.2C238.9 336.4 239.4 334.7 240.0 332.9C240.5 331.2 241.1 329.4 241.7 327.6C242.3 325.8 242.9 324.0 243.6 322.2C244.3 320.5 245.0 318.7 245.8 316.9C246.6 315.1 247.5 313.4 248.4 311.6C249.4 309.9 250.4 308.2 251.5 306.6C252.6 304.9 253.8 303.3 255.1 301.8C256.4 300.3 257.8 298.8 259.3 297.5C260.7 296.1 262.3 294.9 263.9 293.7C265.5 292.5 267.2 291.5 269.0 290.5C270.7 289.5 272.6 288.7 274.4 287.9C276.3 287.2 278.2 286.6 280.1 286.0C282.0 285.4 283.9 285.0 285.9 284.6C287.8 284.2 289.8 283.9 291.7 283.7C293.7 283.4 295.6 283.2 297.6 283.1C299.5 282.9 301.4 282.8 303.4 282.7C305.3 282.6 307.2 282.6 309.1 282.5C311.0 282.4 313.0 282.4 314.9 282.4C316.8 282.4 318.7 282.4 320.7 282.4C322.6 282.5 324.6 282.5 326.5 282.7C328.5 282.8 330.4 282.9 332.4 283.1C334.4 283.3 336.4 283.6 338.4 283.9C340.3 284.2 342.3 284.6 344.3 285.0C346.3 285.5 348.3 286.0 350.3 286.5C352.2 287.1 354.2 287.7 356.2 288.5C358.1 289.2 360.1 290.0 362.0 290.8C364.0 291.7 365.9 292.6 367.8 293.6C369.6 294.7 371.5 295.8 373.3 296.9C375.1 298.1 376.8 299.4 378.5 300.8C380.2 302.2 381.8 303.6 383.3 305.2C384.8 306.7 386.2 308.4 387.5 310.1C388.8 311.9 390.0 313.7 391.1 315.6C392.2 317.5 393.1 319.4 393.9 321.4C394.8 323.4 395.5 325.5 396.1 327.6C396.7 329.6 397.2 331.7 397.6 333.9C398.0 336.0 398.3 338.1 398.5 340.2C398.7 342.3 398.8 344.4 398.9 346.5C399.0 348.6 399.1 350.7 399.0 352.8C399.0 354.8 399.0 356.9 398.9 358.9C398.7 361.0 398.6 363.0 398.4 365.0Z" fill="none" stroke="#d4d4f4" stroke-width="0.4" stroke-dasharray="6 2.5" opacity="0.5"/>
<path d="M389.3 365.0C389.1 366.8 389.0 368.6 388.8 370.4C388.6 372.1 388.3 373.9 388.0 375.7C387.7 377.4 387.4 379.2 387.0 380.9C386.7 382.7 386.2 384.4 385.8 386.2C385.3 387.9 384.8 389.6 384.2 391.3C383.7 393.0 383.1 394.7 382.4 396.4C381.8 398.0 381.1 399.7 380.3 401.3C379.6 403.0 378.8 404.6 377.9 406.2C377.1 407.8 376.2 409.4 375.2 410.9C374.3 412.5 373.3 414.0 372.2 415.5C371.1 417.0 370.0 418.5 368.8 419.9C367.6 421.3 366.4 422.6 365.1 423.9C363.7 425.2 362.4 426.5 361.0 427.7C359.5 428.8 358.1 430.0 356.5 431.0C355.0 432.1 353.4 433.0 351.8 434.0C350.2 434.9 348.5 435.7 346.9 436.5C345.2 437.2 343.5 437.9 341.7 438.5C340.0 439.2 338.2 439.7 336.4 440.2C334.6 440.6 332.8 441.0 331.0 441.3C329.2 441.6 327.4 441.8 325.6 442.0C323.7 442.1 321.9 442.1 320.1 442.1C318.3 442.1 316.5 442.0 314.7 441.8C312.9 441.6 311.1 441.3 309.3 441.0C307.6 440.7 305.8 440.2 304.1 439.8C302.4 439.3 300.8 438.7 299.1 438.1C297.5 437.6 295.8 436.9 294.2 436.2C292.7 435.5 291.1 434.8 289.6 434.0C288.1 433.2 286.6 432.4 285.1 431.6C283.7 430.7 282.2 429.8 280.8 428.9C279.4 428.0 278.1 427.1 276.7 426.1C275.4 425.1 274.1 424.1 272.8 423.1C271.5 422.1 270.3 421.0 269.1 419.9C267.9 418.9 266.7 417.8 265.5 416.6C264.3 415.5 263.2 414.4 262.1 413.2C260.9 412.1 259.8 410.9 258.8 409.7C257.7 408.5 256.6 407.3 255.6 406.0C254.5 404.8 253.5 403.5 252.5 402.2C251.5 400.9 250.5 399.6 249.5 398.2C248.6 396.9 247.6 395.5 246.8 394.0C245.9 392.6 245.1 391.1 244.3 389.6C243.6 388.1 242.9 386.6 242.3 385.0C241.7 383.4 241.1 381.8 240.7 380.2C240.3 378.5 239.9 376.8 239.7 375.2C239.4 373.5 239.3 371.8 239.2 370.1C239.1 368.4 239.2 366.7 239.2 365.0C239.3 363.3 239.5 361.6 239.7 359.9C239.9 358.3 240.2 356.6 240.5 355.0C240.8 353.3 241.2 351.7 241.5 350.0C241.9 348.4 242.3 346.8 242.7 345.1C243.1 343.5 243.5 341.9 244.0 340.2C244.4 338.6 244.9 337.0 245.4 335.4C245.9 333.7 246.4 332.1 247.0 330.4C247.6 328.8 248.2 327.2 248.8 325.5C249.5 323.9 250.2 322.3 251.0 320.7C251.8 319.1 252.6 317.5 253.5 315.9C254.5 314.4 255.5 312.9 256.5 311.4C257.6 310.0 258.7 308.6 260.0 307.2C261.2 305.9 262.5 304.6 263.9 303.4C265.2 302.2 266.7 301.1 268.2 300.1C269.7 299.0 271.3 298.1 272.9 297.2C274.5 296.4 276.1 295.6 277.8 294.9C279.5 294.3 281.2 293.7 283.0 293.2C284.7 292.6 286.5 292.2 288.2 291.8C290.0 291.5 291.8 291.2 293.5 290.9C295.3 290.7 297.1 290.5 298.8 290.3C300.6 290.1 302.3 290.0 304.1 289.9C305.9 289.8 307.6 289.7 309.4 289.7C311.1 289.6 312.9 289.6 314.6 289.6C316.4 289.6 318.1 289.7 319.9 289.7C321.7 289.8 323.4 289.9 325.2 290.0C327.0 290.2 328.8 290.4 330.6 290.6C332.3 290.8 334.1 291.1 335.9 291.4C337.7 291.8 339.5 292.2 341.2 292.6C343.0 293.1 344.8 293.6 346.6 294.1C348.3 294.7 350.1 295.3 351.8 296.0C353.6 296.7 355.3 297.5 357.0 298.3C358.7 299.1 360.4 300.0 362.0 301.0C363.7 301.9 365.3 303.0 366.9 304.1C368.4 305.2 370.0 306.4 371.4 307.6C372.9 308.9 374.3 310.2 375.6 311.7C376.9 313.1 378.1 314.6 379.3 316.1C380.4 317.7 381.4 319.3 382.4 321.0C383.3 322.7 384.2 324.5 384.9 326.2C385.6 328.0 386.3 329.9 386.8 331.7C387.3 333.5 387.8 335.4 388.2 337.3C388.5 339.2 388.8 341.0 389.0 342.9C389.2 344.8 389.4 346.7 389.5 348.5C389.6 350.4 389.6 352.2 389.7 354.1C389.7 355.9 389.6 357.8 389.6 359.6C389.5 361.4 389.4 363.2 389.3 365.0Z" fill="none" stroke="#d4d4f4" stroke-width="0.4" stroke-dasharray="6 2.5" opacity="0.5"/>
<path d="M381.2 365.0C381.1 366.6 381.0 368.2 380.8 369.8C380.7 371.4 380.5 373.0 380.3 374.6C380.1 376.2 379.8 377.8 379.6 379.4C379.3 380.9 379.0 382.5 378.6 384.1C378.2 385.7 377.8 387.2 377.4 388.8C376.9 390.3 376.4 391.9 375.8 393.4C375.3 394.9 374.6 396.5 374.0 398.0C373.3 399.4 372.6 400.9 371.8 402.4C371.0 403.8 370.2 405.2 369.3 406.6C368.4 408.0 367.5 409.4 366.5 410.7C365.5 412.0 364.4 413.3 363.3 414.5C362.2 415.8 361.0 417.0 359.8 418.1C358.6 419.3 357.4 420.4 356.1 421.4C354.8 422.4 353.4 423.4 352.0 424.3C350.6 425.3 349.2 426.1 347.8 426.9C346.3 427.7 344.8 428.5 343.3 429.2C341.8 429.8 340.2 430.4 338.7 431.0C337.1 431.5 335.5 432.0 333.9 432.4C332.3 432.9 330.7 433.2 329.1 433.5C327.5 433.8 325.8 434.0 324.2 434.1C322.6 434.2 320.9 434.3 319.3 434.3C317.7 434.3 316.0 434.2 314.4 434.1C312.8 433.9 311.2 433.7 309.6 433.4C308.0 433.2 306.5 432.8 304.9 432.5C303.4 432.1 301.8 431.6 300.3 431.1C298.8 430.7 297.4 430.1 295.9 429.6C294.5 429.0 293.0 428.4 291.6 427.7C290.2 427.1 288.8 426.4 287.5 425.7C286.1 424.9 284.8 424.2 283.5 423.4C282.2 422.6 280.9 421.8 279.7 421.0C278.4 420.1 277.2 419.3 276.0 418.4C274.8 417.5 273.6 416.5 272.5 415.6C271.3 414.6 270.2 413.6 269.1 412.6C268.0 411.6 266.9 410.6 265.9 409.5C264.8 408.5 263.8 407.4 262.8 406.3C261.8 405.1 260.9 404.0 259.9 402.8C259.0 401.7 258.1 400.5 257.2 399.3C256.3 398.0 255.4 396.8 254.6 395.5C253.8 394.2 253.0 392.9 252.3 391.6C251.6 390.2 250.9 388.9 250.3 387.5C249.6 386.1 249.1 384.6 248.5 383.2C248.0 381.7 247.6 380.3 247.2 378.8C246.9 377.3 246.6 375.8 246.3 374.2C246.1 372.7 245.9 371.2 245.8 369.6C245.7 368.1 245.7 366.5 245.7 365.0C245.7 363.5 245.8 361.9 245.9 360.4C246.0 358.8 246.2 357.3 246.4 355.8C246.6 354.2 246.8 352.7 247.1 351.2C247.3 349.7 247.6 348.2 248.0 346.6C248.3 345.1 248.6 343.6 249.0 342.1C249.4 340.6 249.8 339.0 250.3 337.5C250.7 336.0 251.2 334.5 251.8 333.0C252.3 331.5 252.9 329.9 253.5 328.5C254.2 327.0 254.9 325.5 255.6 324.0C256.4 322.6 257.2 321.2 258.1 319.8C259.0 318.4 260.0 317.0 261.0 315.7C262.0 314.5 263.1 313.2 264.3 312.0C265.5 310.8 266.7 309.7 268.0 308.7C269.3 307.6 270.6 306.6 272.0 305.7C273.4 304.8 274.8 304.0 276.3 303.2C277.8 302.4 279.3 301.8 280.9 301.1C282.4 300.5 284.0 300.0 285.5 299.5C287.1 299.0 288.7 298.6 290.3 298.3C291.9 297.9 293.5 297.6 295.1 297.3C296.7 297.1 298.3 296.9 300.0 296.7C301.6 296.5 303.2 296.4 304.8 296.3C306.4 296.2 308.0 296.1 309.6 296.1C311.2 296.0 312.8 296.0 314.4 296.0C316.0 296.1 317.6 296.1 319.2 296.2C320.8 296.3 322.5 296.4 324.1 296.6C325.7 296.8 327.3 297.0 328.9 297.2C330.5 297.5 332.1 297.8 333.7 298.1C335.3 298.5 336.9 298.9 338.5 299.4C340.1 299.8 341.7 300.3 343.3 300.9C344.8 301.4 346.4 302.1 348.0 302.7C349.5 303.4 351.0 304.1 352.5 304.9C354.0 305.7 355.5 306.6 356.9 307.5C358.4 308.4 359.8 309.4 361.2 310.4C362.5 311.4 363.9 312.5 365.1 313.7C366.4 314.9 367.6 316.1 368.7 317.4C369.9 318.7 370.9 320.1 371.9 321.5C372.9 322.9 373.8 324.4 374.6 325.9C375.5 327.4 376.2 328.9 376.8 330.5C377.5 332.1 378.1 333.7 378.5 335.4C379.0 337.0 379.4 338.7 379.8 340.3C380.1 342.0 380.4 343.7 380.6 345.3C380.8 347.0 381.0 348.7 381.1 350.3C381.2 352.0 381.3 353.6 381.3 355.3C381.4 356.9 381.4 358.5 381.3 360.2C381.3 361.8 381.2 363.4 381.2 365.0Z" fill="none" stroke="#d4d4f4" stroke-width="0.4" stroke-dasharray="6 2.5" opacity="0.5"/>
<path d="M373.0 365.0C373.0 366.4 373.0 367.8 372.9 369.3C372.8 370.7 372.7 372.1 372.6 373.5C372.4 374.9 372.3 376.4 372.1 377.8C371.9 379.2 371.7 380.6 371.4 382.0C371.1 383.5 370.8 384.9 370.5 386.3C370.1 387.7 369.7 389.1 369.2 390.5C368.7 391.8 368.2 393.2 367.6 394.6C367.0 395.9 366.4 397.2 365.7 398.5C365.0 399.8 364.2 401.1 363.4 402.3C362.5 403.5 361.7 404.7 360.7 405.9C359.8 407.0 358.8 408.2 357.8 409.2C356.8 410.3 355.7 411.3 354.6 412.3C353.5 413.3 352.3 414.2 351.2 415.1C350.0 416.0 348.8 416.9 347.5 417.7C346.3 418.5 345.0 419.2 343.7 419.9C342.4 420.6 341.1 421.2 339.7 421.8C338.4 422.4 337.0 423.0 335.6 423.4C334.2 423.9 332.8 424.4 331.4 424.7C330.0 425.1 328.6 425.4 327.1 425.7C325.7 425.9 324.2 426.1 322.8 426.2C321.4 426.4 319.9 426.4 318.5 426.5C317.0 426.5 315.6 426.4 314.1 426.3C312.7 426.3 311.3 426.1 309.9 425.9C308.5 425.7 307.1 425.5 305.7 425.2C304.3 424.9 302.9 424.5 301.6 424.2C300.2 423.8 298.9 423.4 297.6 422.9C296.2 422.4 294.9 422.0 293.7 421.4C292.4 420.9 291.1 420.3 289.9 419.8C288.6 419.2 287.4 418.6 286.2 417.9C285.0 417.3 283.8 416.6 282.6 415.9C281.5 415.1 280.3 414.4 279.2 413.6C278.1 412.9 277.0 412.1 275.9 411.2C274.8 410.4 273.8 409.5 272.7 408.6C271.7 407.7 270.7 406.8 269.7 405.8C268.7 404.9 267.8 403.9 266.9 402.8C266.0 401.8 265.1 400.8 264.3 399.7C263.4 398.6 262.6 397.5 261.9 396.3C261.1 395.2 260.4 394.0 259.7 392.8C259.0 391.6 258.4 390.4 257.8 389.1C257.2 387.9 256.7 386.6 256.2 385.3C255.7 384.0 255.2 382.7 254.8 381.4C254.4 380.1 254.1 378.7 253.8 377.4C253.4 376.0 253.2 374.7 253.0 373.3C252.7 371.9 252.6 370.5 252.4 369.2C252.3 367.8 252.2 366.4 252.1 365.0C252.1 363.6 252.1 362.2 252.1 360.8C252.1 359.4 252.2 358.0 252.3 356.6C252.3 355.2 252.5 353.8 252.6 352.4C252.8 351.0 253.0 349.6 253.2 348.1C253.5 346.7 253.7 345.3 254.0 343.9C254.4 342.5 254.7 341.1 255.1 339.7C255.5 338.3 256.0 336.9 256.5 335.5C257.0 334.1 257.6 332.7 258.2 331.4C258.8 330.0 259.5 328.7 260.2 327.4C261.0 326.1 261.8 324.8 262.7 323.6C263.5 322.4 264.5 321.2 265.5 320.1C266.5 318.9 267.5 317.8 268.6 316.8C269.7 315.8 270.9 314.8 272.1 313.9C273.3 313.0 274.5 312.2 275.8 311.4C277.1 310.6 278.4 309.9 279.8 309.2C281.1 308.5 282.5 307.9 283.9 307.4C285.3 306.8 286.7 306.3 288.1 305.9C289.5 305.4 291.0 305.0 292.4 304.7C293.8 304.3 295.3 304.0 296.7 303.8C298.2 303.5 299.6 303.3 301.1 303.1C302.5 302.9 304.0 302.8 305.4 302.7C306.9 302.5 308.4 302.5 309.8 302.4C311.3 302.4 312.7 302.4 314.2 302.4C315.6 302.5 317.1 302.6 318.6 302.7C320.0 302.8 321.5 302.9 322.9 303.1C324.4 303.3 325.8 303.6 327.2 303.9C328.7 304.2 330.1 304.5 331.5 304.9C333.0 305.2 334.4 305.6 335.8 306.1C337.2 306.6 338.6 307.1 340.0 307.6C341.4 308.2 342.7 308.8 344.1 309.4C345.4 310.1 346.7 310.8 348.0 311.6C349.3 312.3 350.6 313.1 351.9 314.0C353.1 314.8 354.3 315.8 355.5 316.7C356.6 317.7 357.8 318.7 358.8 319.8C359.9 320.9 360.9 322.0 361.9 323.1C362.8 324.3 363.7 325.5 364.6 326.8C365.4 328.1 366.2 329.4 366.9 330.7C367.6 332.0 368.2 333.4 368.8 334.8C369.4 336.2 369.9 337.6 370.3 339.0C370.7 340.5 371.1 341.9 371.4 343.4C371.7 344.8 372.0 346.3 372.2 347.7C372.4 349.2 372.6 350.6 372.7 352.1C372.8 353.5 372.9 355.0 373.0 356.4C373.0 357.9 373.1 359.3 373.1 360.7C373.1 362.2 373.1 363.6 373.0 365.0Z" fill="none" stroke="#d4d4f4" stroke-width="0.4" stroke-dasharray="6 2.5" opacity="0.5"/>
<path d="M301.0 302.4L297.0 -97.6M270.7 193.8L259.4 153.3M243.7 205.4L227.7 178.4M220.5 223.5L185.3 189.0M301.0 302.4L247.0 271.9M236.5 266.1L216.6 254.8M198.6 244.6L174.5 231.1M191.9 274.3L182.4 271.9M301.0 302.4L191.9 366.9M222.1 382.9L205.3 400.0M245.6 400.6L232.9 423.1M186.4 505.7L104.5 650.8M272.9 411.5L262.9 450.6M301.0 302.4L302.6 459.0M302.9 494.8L305.0 702.4M331.3 411.0L343.6 455.3M346.6 465.8L348.1 471.2M352.6 487.3L358.1 507.3M363.7 527.1L408.4 687.7M358.3 399.4L375.5 428.5M419.1 502.3L504.5 646.8M381.5 381.3L410.3 409.5M485.9 483.6L586.7 582.4M301.0 302.4L375.0 344.2M418.3 301.2L461.7 300.8M464.2 256.9L474.3 254.1M488.4 250.2L686.3 195.0M301.0 302.4L347.1 275.2M398.0 245.1L645.4 98.9M461.3 138.8L581.0 16.7M381.8 159.1L497.5 -46.0M329.1 193.3L345.2 130.6M349.8 112.7L400.6 -85.0M332.9 194.3L331.0 193.8L329.1 193.3L327.2 192.8L325.2 192.3L323.3 191.9L321.4 191.6L319.4 191.2L317.5 190.9L315.6 190.6L313.6 190.4L311.6 190.2L309.7 190.0L307.7 189.9L305.8 189.8L303.8 189.7L301.8 189.7L299.9 189.7L297.9 189.7L295.9 189.8L294.0 189.9L292.0 190.1L290.0 190.2L288.1 190.4L286.1 190.7L284.2 191.0L282.2 191.3L280.3 191.6L278.4 192.0L276.5 192.4L274.5 192.9L272.6 193.3L270.7 193.8L268.8 194.4L267.0 195.0L265.1 195.6L263.2 196.2L261.4 196.9L259.6 197.6L257.7 198.3L255.9 199.1L254.1 199.9L252.3 200.8L250.6 201.6L248.8 202.5L247.1 203.4L245.4 204.4L243.7 205.4L242.0 206.4L240.3 207.4L238.7 208.5L237.0 209.6L235.4 210.7L233.8 211.9L232.3 213.1L230.7 214.3L229.2 215.5L227.7 216.8L226.2 218.1L224.7 219.4L223.3 220.8L221.9 222.1L220.5 223.5L219.1 224.9L217.8 226.4L216.5 227.8L215.2 229.3L213.9 230.8L212.7 232.4L211.5 233.9L210.3 235.5L209.2 237.1M201.9 248.8L201.0 250.5L200.1 252.3L199.2 254.0L198.4 255.8L197.6 257.6L196.8 259.4L196.1 261.2L195.4 263.1L194.7 264.9L194.1 266.8L193.5 268.7L192.9 270.5L192.4 272.4L191.9 274.3L191.4 276.2L190.9 278.2L190.5 280.1L190.2 282.0L189.8 284.0L189.5 285.9L189.2 287.8L189.0 289.8L188.8 291.8L188.6 293.7M198.2 348.6L199.0 350.3L199.9 352.1L200.7 353.9L201.7 355.6L202.6 357.3L203.6 359.1L204.6 360.7L205.6 362.4L206.7 364.1L207.8 365.7L208.9 367.3L210.0 368.9L211.2 370.5L212.4 372.1L213.6 373.6L214.9 375.1L216.2 376.6L217.5 378.1L218.8 379.5L220.2 380.9L221.6 382.3L223.0 383.7L224.4 385.1M238.9 396.5L240.6 397.5L242.3 398.6L243.9 399.6L245.6 400.6L247.4 401.5L249.1 402.4L250.9 403.3L252.6 404.2L254.4 405.0L256.2 405.8L258.0 406.6L259.8 407.3L261.7 408.0L263.5 408.7L265.4 409.3L267.3 409.9L269.1 410.5L271.0 411.0L272.9 411.5L274.8 412.0L276.8 412.5L278.7 412.9L280.6 413.2L282.6 413.6L284.5 413.9L286.4 414.2L288.4 414.4L290.4 414.6L292.3 414.8L294.3 414.9L296.2 415.0L298.2 415.1L300.2 415.1L302.1 415.1L304.1 415.1L306.1 415.0L308.0 414.9L310.0 414.7L312.0 414.6L313.9 414.4L315.9 414.1L317.8 413.8L319.8 413.5L321.7 413.2L323.6 412.8L325.5 412.4L327.5 411.9L329.4 411.5L331.3 411.0L333.2 410.4L335.0 409.8L336.9 409.2L338.8 408.6L340.6 407.9L342.4 407.2L344.3 406.5L346.1 405.7L347.9 404.9L349.7 404.0L351.4 403.2L353.2 402.3L354.9 401.4L356.6 400.4L358.3 399.4L360.0 398.4L361.7 397.4L363.3 396.3L365.0 395.2L366.6 394.1L368.2 392.9L369.7 391.7L371.3 390.5L372.8 389.3L374.3 388.0L375.8 386.7L377.3 385.4L378.7 384.0L380.1 382.7L381.5 381.3L382.9 379.9L384.2 378.4L385.5 377.0L386.8 375.5L388.1 374.0L389.3 372.4L390.5 370.9L391.7 369.3L392.8 367.7L394.0 366.1L395.1 364.5L396.1 362.8L397.2 361.1L398.2 359.5L399.2 357.8L400.1 356.0M409.6 272.1L409.0 270.2L408.4 268.4L407.8 266.5L407.2 264.6L406.5 262.8L405.8 261.0L405.1 259.1L404.3 257.3L403.5 255.5L402.6 253.7L401.8 252.0L400.9 250.2L400.0 248.5L399.0 246.8L398.0 245.1L397.0 243.4L396.0 241.7M458.7 135.8L455.7 133.1L452.7 130.4L449.7 127.8L446.6 125.2L443.5 122.7L440.4 120.2L437.2 117.8L433.9 115.5L430.6 113.2L427.3 111.0L424.0 108.8L420.6 106.7L417.1 104.6L413.7 102.6L410.2 100.7L406.6 98.8L403.1 97.0L399.5 95.2L395.8 93.6L392.2 91.9L388.5 90.4M509.6 207.0L507.9 203.4L506.1 199.8L504.3 196.2L502.4 192.7L500.5 189.2L498.5 185.7L496.4 182.3L494.3 178.9L492.1 175.5L489.8 172.2L487.5 168.9L485.2 165.7L482.8 162.5L480.3 159.4L477.8 156.3L475.2 153.2L472.6 150.2L469.9 147.2L467.2 144.3L464.4 141.4L461.5 138.6L458.7 135.8M208.0 512.1L211.7 513.7L215.4 515.2L219.1 516.6L222.9 518.0M263.5 528.7L267.4 529.3L271.4 529.8L275.4 530.3L279.3 530.7L283.3 531.1L287.3 531.4L291.3 531.6L295.3 531.7L299.3 531.8L303.3 531.8L307.3 531.7L311.3 531.5L315.3 531.3L319.3 531.0L323.3 530.7L327.3 530.3L331.3 529.8L335.2 529.2L339.2 528.6L343.1 527.9L347.0 527.1L351.0 526.3L354.9 525.4L358.7 524.4M424.5 495.7L427.9 493.5L431.2 491.2L434.5 488.9L437.7 486.6" fill="none" stroke="#000" stroke-width="0.68" stroke-dasharray="2.7 2.8"/>
<path d="M201.0 94.0L195.7 95.2L191.5 97.7L189.0 101.0L186.5 104.3L183.7 105.2L184.8 106.3L188.2 105.7L192.3 104.0L197.3 101.8L201.0 99.3M179.0 107.7L182.3 107.3L185.7 109.0L188.7 111.8L189.8 115.2L188.2 118.0L184.8 119.3L181.5 118.5L178.2 116.8L176.5 113.5L177.0 110.2ZM169.0 124.3L171.5 123.8L174.0 125.7L176.5 126.8L177.3 129.3L179.0 131.8L181.5 133.5L179.0 134.7L176.5 134.0L174.8 131.0L172.3 129.7L169.8 128.0L168.2 126.0ZM201.0 154.3L197.3 153.5L194.8 151.0L192.3 147.7L189.8 145.5L185.7 145.2L180.7 145.7L177.7 147.7L178.7 150.2L182.3 151.0L185.7 151.8L186.5 154.0L183.2 155.2L179.0 156.0L174.8 157.7L174.0 159.0L177.3 159.7L180.7 161.0L181.0 165.2L180.3 169.3L179.8 172.7L177.3 173.5L174.8 174.3L174.3 176.8L176.0 179.3L179.0 181.8L182.3 184.3L185.3 187.3L189.0 186.8L187.0 189.3L183.2 190.2L180.7 189.3L179.0 186.0L178.7 183.5L175.7 182.7L172.3 183.5L170.7 186.0L171.0 189.3L173.2 191.0L172.8 197.7L172.3 204.3L172.0 210.7L169.0 209.0L166.5 209.7L167.0 213.5L164.3 215.2L163.7 220.2L161.5 221.0L159.8 223.0M201.0 158.5L195.7 159.0L190.7 160.2L186.5 162.7L184.0 166.8L183.7 171.0L185.7 174.3L189.8 176.3L195.7 176.8L201.0 176.8M178.7 199.3L180.7 198.5L183.2 200.2L184.0 202.7L182.3 204.3L179.8 204.0L178.2 201.8ZM200.0 94.0L202.0 92.3L203.0 91.3M201.0 98.5L204.3 95.2L208.5 93.0L212.7 93.0L216.0 94.7L218.5 98.5L219.7 103.5L221.8 107.7L223.0 112.7L222.7 119.3L220.7 124.3L219.0 129.3L218.5 132.7L220.2 135.7L223.5 136.8L227.7 135.7L230.2 132.7L230.7 128.5L229.3 124.3L228.5 121.0L230.7 116.0L233.5 111.0L235.2 106.0L235.7 101.0L235.2 96.0L234.3 91.7M201.0 155.2L205.2 156.0L207.7 157.3L204.3 158.0L201.0 158.2M277.7 91.0L275.2 94.3L272.7 97.7L269.3 100.2L267.7 104.3L265.2 107.7L263.5 112.7L261.3 117.7L259.7 122.7L259.0 127.7L258.0 132.7L256.8 137.7L255.2 142.7L254.0 145.2L257.7 143.0L261.3 140.2L259.3 143.5L256.8 146.8L258.5 148.5L256.0 150.7L253.0 149.7L251.8 151.8L254.7 152.7L254.0 156.0L251.8 158.5L249.3 161.0L246.0 163.5L244.7 166.8L243.5 171.0L241.8 169.3L240.2 172.7L238.0 171.8L236.8 175.2L235.2 173.0L233.5 176.0L231.0 177.7L227.7 178.0L224.3 176.8L223.5 174.3L226.0 173.0L224.3 171.8L221.0 173.0L217.7 174.0L214.3 173.5L211.0 175.2L206.0 176.0L201.0 176.8M343.8 117.7L346.3 114.3L350.5 112.7L356.3 111.8L361.3 111.0L365.5 111.0L368.8 113.5L371.3 116.0L373.8 117.7L376.3 119.3L374.3 121.8L376.0 124.3L377.2 126.8L373.8 128.0L370.5 129.7L369.7 131.8L373.0 132.3L376.0 131.8L373.8 134.7L370.5 136.8L368.0 136.3L366.3 133.5L366.0 130.2L363.8 131.0L361.3 129.7L358.8 131.0L355.5 130.2L353.0 131.0L350.5 129.7L348.0 130.7L345.5 129.0L344.7 125.2L343.3 121.8ZM322.2 91.8L324.7 91.3L326.0 92.3L324.3 93.3L322.7 93.0ZM405.0 154.3L400.5 155.2L396.3 156.8L392.2 159.3L388.8 160.7L385.5 161.0L383.0 159.3L378.8 158.5L373.0 158.5L367.2 159.3L362.2 161.0L358.8 162.7L356.3 165.2L357.2 166.8L360.5 167.7L365.5 168.5L363.0 170.7L360.5 174.0L358.3 173.0L357.7 169.3L355.5 167.7L353.8 170.2L352.7 174.3L352.2 177.7L353.8 181.8L351.3 180.2L349.7 182.7L348.0 186.8L345.5 186.0L343.8 189.3L341.3 188.5L340.5 191.8L337.2 192.7L335.5 196.0L333.8 198.5L335.0 201.0L336.0 205.2L337.2 207.7L335.5 210.2L332.7 208.5L331.0 211.0L330.5 215.2L329.3 219.3L328.3 223.0M319.3 161.8L322.2 159.7M405.0 154.3L409.2 154.3L412.5 156.3L415.8 158.0L419.2 157.7L421.7 156.8L423.0 159.0L424.2 155.2L427.5 151.0L431.7 148.5L435.8 147.7L439.2 148.0L440.8 145.2L444.2 142.3L448.3 140.2L451.7 137.7L454.2 135.2L456.7 134.3L459.2 135.7L460.0 138.5L460.3 142.7L461.7 146.8L463.7 150.2L464.2 154.3L463.3 158.5L461.7 162.7L459.7 166.8L458.0 171.0L455.8 175.2L453.7 178.5L453.3 181.0L450.8 182.7L448.3 186.0L446.7 189.3L446.3 192.7L444.2 195.2L440.8 197.7L437.5 200.2L433.3 202.3L430.0 203.5L427.5 203.0L425.8 200.2L422.5 201.0L419.2 203.5L418.0 206.0L420.8 206.8L424.2 207.7L425.8 210.2L424.7 213.5L420.8 215.7L417.5 216.8L415.3 215.2L414.7 211.0L413.0 212.7L412.0 216.8L410.8 219.3L413.0 221.0L414.2 223.0M504.7 202.3L506.7 200.2L507.0 204.3ZM159.8 221.7L161.5 224.7L164.8 226.3L169.0 228.0L173.2 227.2L172.3 229.7L169.0 231.3L164.8 233.8L160.7 237.2L155.7 240.5L151.5 243.0L148.7 244.7L150.7 246.3L154.0 246.0L157.3 244.7L161.5 244.3L165.7 246.3L169.8 248.8L173.2 252.2L176.5 255.5L179.8 258.8L182.3 262.2L180.7 264.3L177.3 265.0L174.0 263.0L170.7 260.5L166.5 258.8L162.3 258.3L158.2 258.8L154.0 258.0L149.0 257.2L144.8 258.8L141.5 260.0L138.2 258.8L136.5 255.5L134.8 251.3L134.0 247.2L131.5 246.3L130.3 248.8L131.0 253.0L133.2 257.2L136.5 260.5L140.7 261.0L144.8 261.7L147.3 264.3L148.2 261.7L151.5 261.3L156.5 262.7L161.5 264.3L166.5 266.0L170.7 268.0L174.0 269.7L177.3 270.5L178.2 271.7L174.8 271.3L170.7 270.5L167.3 268.8L164.8 269.7L163.2 272.2L161.5 275.5L164.0 274.7L166.5 273.0L169.0 273.0L171.5 274.7L172.3 276.7L169.8 277.7L167.7 276.3L168.2 279.7L169.8 281.7L167.3 283.3L164.8 284.7L165.7 287.2L169.0 286.0L172.3 283.3L176.5 283.3L179.3 283.8L179.8 288.8L180.3 293.0L180.7 297.2L184.0 296.3L187.3 297.2L190.7 300.5L192.3 303.5M244.7 253.8L247.7 253.0L251.0 252.7L250.7 255.5L248.5 257.2L247.7 259.3L245.7 258.0L244.3 256.0ZM238.5 263.0L240.7 261.7L242.7 263.8L244.7 263.0L246.0 265.5L247.3 268.3L245.7 269.7L244.0 267.7L242.3 268.8L241.0 266.7L239.3 267.7L238.0 265.5ZM239.0 271.3L241.0 270.5L242.7 272.7L241.8 275.0L239.7 274.7ZM241.0 260.5L242.7 258.8L243.5 260.5M270.4 206.0L272.9 207.7L275.3 209.7L277.4 212.2L278.6 214.6L278.2 216.4L277.4 217.2L279.4 216.9L281.5 218.3L283.1 220.3L284.3 223.2L285.5 226.0L285.8 227.7L283.9 228.1L282.3 228.7L280.6 228.1L279.4 229.3L279.2 230.9L277.8 231.8L277.4 233.4L276.0 235.0L274.5 234.2L273.3 235.2L272.1 236.7L270.4 236.8L268.8 237.3L266.7 237.6L265.5 235.8L265.4 233.0L265.9 230.1L267.6 228.5L270.0 228.1L272.5 228.3L274.5 229.2L274.9 227.7L273.7 226.5L271.7 225.9L270.0 225.2L269.2 223.6L267.6 222.4L265.9 221.1L264.3 220.3L262.7 219.9L261.4 219.1L262.3 217.1L263.5 215.0L265.1 214.6L266.3 215.3L266.7 217.5L267.6 219.5L269.2 221.1L270.4 222.8L271.4 221.6L270.8 218.7L270.4 213.8L270.3 208.9ZM414.2 223.0L411.7 223.3L410.0 225.0L408.3 226.7L405.0 229.2M455.0 216.7L460.0 215.8L463.3 215.8L465.8 217.5L469.2 216.7L468.3 220.8L465.8 225.0L465.0 229.2L465.8 231.7L470.0 230.0L472.5 226.7L475.0 221.7L478.3 217.5L481.7 214.2L485.0 212.5L487.5 215.0L487.5 220.0L486.7 225.0L485.8 229.2L488.3 226.7L490.0 221.7L491.7 217.5L494.2 215.0L496.3 216.7L496.7 221.7L495.8 227.5L494.2 233.3L491.7 237.5L489.2 240.0L488.3 244.2L487.5 248.3L489.2 252.5L490.8 256.7L490.0 260.0L487.5 261.7L484.7 262.0L482.5 260.0L482.0 255.8L480.8 251.7L478.3 249.7L475.8 250.8L472.5 251.7L469.2 250.0L465.0 249.2L460.8 250.0L457.5 252.5L455.0 255.8L453.3 260.0L455.0 262.5L452.5 264.2L449.2 266.7L446.7 270.0L448.7 272.5L450.3 275.8L449.7 280.0L448.7 284.2L449.7 288.3L447.5 292.5L444.2 295.8L440.8 298.3L437.5 300.0L433.3 300.8L430.0 300.0L425.8 298.3L422.5 295.8L420.8 292.5L421.3 290.0L424.2 291.7L428.3 293.0L432.5 292.5L435.8 291.3L437.5 289.7L434.2 290.3L430.0 290.8L425.8 289.2L422.5 286.7L420.8 284.2L423.3 282.5L426.7 280.0L430.0 278.3L432.5 280.0L430.0 275.8L427.5 271.7L425.8 268.3L426.7 265.8L430.0 264.2L430.8 260.8L432.5 256.7L434.2 252.5L435.8 248.3L437.5 245.0L440.0 243.7L443.3 240.0L445.0 241.3L449.2 240.8L450.0 235.8L450.8 230.8L452.5 226.7L453.3 221.7ZM459.2 260.0L460.8 258.0L464.2 257.5L467.0 258.7L468.0 261.3L465.8 263.3L462.5 263.7L460.0 262.5ZM419.7 275.8L420.8 273.0L423.3 271.7L425.8 273.0L426.7 276.7L425.8 280.3L423.0 282.0L420.3 280.3ZM495.8 267.5L498.3 268.7L500.0 270.0L497.5 274.2L496.3 278.3L499.2 280.0L502.5 281.7L500.8 285.0L498.3 287.5L495.0 289.2L491.7 288.3L488.3 287.5L484.7 286.7L481.7 285.8L483.3 283.3L486.7 280.0L489.2 276.7L491.7 273.3L493.7 270.0ZM507.0 230.8L504.2 233.3L502.5 238.3L501.7 243.3L503.3 248.3L505.0 253.3L507.0 256.7M507.0 271.7L505.0 273.3L505.8 276.7L507.0 277.5M453.3 280.0L455.0 277.5L460.0 277.0L463.3 278.3L467.5 276.3L470.8 275.3L474.2 276.7L477.5 279.7L480.0 282.5L479.2 285.8L477.5 288.3L480.0 287.5L482.5 289.2L486.7 290.8L490.8 292.5L495.0 295.0L497.5 298.3L499.2 301.7L503.3 302.5L507.0 305.0M453.3 280.0L452.0 283.3L451.7 286.7L455.0 285.8L460.0 286.7L464.2 289.2L468.3 290.0L471.7 291.3L470.0 294.2L465.8 295.8L461.7 298.3L460.8 300.8L456.7 302.5L452.5 304.2L450.0 306.7L446.7 305.8L442.5 307.5L438.3 309.2L434.2 310.0L430.8 308.3L430.0 305.8M407.5 285.0L410.8 282.5L414.2 284.2L416.3 288.3L417.0 294.2L416.7 299.2L414.2 301.7L410.8 300.0L408.3 296.7L406.7 291.7ZM408.7 310.0L412.5 308.3L415.0 310.8L413.3 314.7L409.7 315.0ZM190.0 300.0L192.5 304.2L195.0 308.3L197.5 312.5L199.2 315.8L198.0 318.0L200.8 319.7L203.7 320.8L207.5 322.0L210.8 323.3L212.5 325.8L210.0 327.5L208.3 330.0L206.3 329.2L205.0 332.5L207.5 334.2L208.7 337.5L208.0 341.7L205.8 344.7L203.0 346.7L199.7 347.5L195.8 346.7L192.5 345.0L188.7 343.0L185.0 340.8L181.3 339.7L180.3 340.8L182.5 343.0L184.7 345.0L186.7 344.7L188.7 343.7L190.8 345.0L188.3 347.5L188.7 350.0L190.0 351.7L192.5 350.8L193.3 348.3L195.0 349.2L194.2 351.7L191.7 353.0L190.0 354.2L190.8 357.5L192.5 360.8L191.3 364.2L190.3 365.8L192.0 368.3L193.3 370.8L195.0 372.5L197.5 371.3L200.0 370.8L201.7 374.2L203.0 378.3L203.7 383.3L202.5 386.7L200.0 387.0L196.7 388.3L194.2 391.7L193.0 395.8L194.2 398.3L197.5 397.5L200.0 395.8L202.0 397.5L203.0 400.8L205.3 400.0L206.7 403.3L209.2 405.8L211.7 408.3L213.7 409.2L215.8 405.8L218.0 403.3L220.0 405.8L222.0 409.2L225.0 411.7L227.5 415.0L230.0 416.7L231.7 420.0L234.2 422.5L233.3 425.8L235.8 428.3L237.5 430.8L238.3 432.0M219.2 312.5L220.8 309.2L224.2 306.3L228.3 305.3L232.5 306.3L235.8 308.3L233.3 310.8L230.0 312.0L226.7 314.2L224.2 316.7L220.8 317.5L218.3 315.8ZM213.0 318.7L216.7 318.0L220.8 318.0L223.3 319.7L222.5 323.0L220.0 325.0L216.7 325.0L214.7 322.5ZM226.7 383.3L229.2 380.8L232.5 380.3L234.7 382.5L235.8 385.0L238.3 385.8L239.7 389.2L238.3 392.0L235.8 393.0L233.3 391.3L231.3 390.0L228.3 389.2L226.3 386.7ZM241.7 395.8L244.2 395.0L246.7 398.3L248.0 401.7L245.8 402.5L243.3 400.0L241.3 398.3ZM224.2 399.2L225.8 397.5L228.0 398.3L228.7 401.7L226.7 403.3L224.7 402.0ZM226.3 395.3L227.5 393.3M238.3 432.0L242.5 432.3L245.8 434.0L248.3 436.5L250.3 439.8L249.7 443.2L251.7 445.7L255.0 447.3L258.7 449.3L262.5 450.7L265.8 452.0L269.2 452.7L270.8 450.7L273.3 450.3L274.2 453.2L272.5 455.7L273.3 458.2L275.8 459.0L277.5 457.3L278.0 454.0L278.3 451.5L280.8 450.7L284.2 451.5L288.3 453.2L292.5 454.8L296.7 456.5L300.0 458.2L303.3 460.7L306.7 463.2L310.0 465.7L313.3 468.2L317.0 470.7M299.2 443.2L300.8 441.0L304.2 440.3L307.5 441.0L308.7 443.2L306.7 444.8L303.3 445.7L300.3 445.3ZM317.0 490.7L315.8 487.3L312.5 486.5L309.2 487.3L306.7 485.7L306.3 482.3L305.0 480.7L303.7 483.2L304.2 486.5L301.7 489.8L298.3 491.5L295.0 493.2L294.2 495.7L296.7 497.3L299.2 499.8L300.3 504.0L301.3 508.2L302.0 510.7L298.3 509.8L295.0 510.7L290.8 512.3L286.7 514.0L282.5 516.5L278.3 519.0L274.2 521.5L270.0 524.0L266.7 526.5L264.2 527.3L260.8 525.7L257.5 523.2L254.2 521.5L250.8 522.0L248.3 524.0L245.8 522.7L242.5 523.2L239.2 522.3L236.3 524.8L234.2 528.2L231.7 531.5L229.2 534.0L228.3 536.5M215.0 504.0L218.3 501.5L222.5 500.7L226.7 502.0L230.0 504.0L230.8 505.3L228.3 508.2L227.5 511.5L230.0 512.3L233.3 510.7L236.7 508.7L240.0 506.5L242.5 503.7L245.8 502.3L248.3 503.2L247.5 505.7L245.0 508.2L242.5 511.5L240.0 514.0L236.7 515.7L232.5 518.2L228.3 520.7L224.2 523.2L220.0 525.7L216.7 527.7L215.0 528.7M235.3 532.3L238.0 529.0L240.3 528.7L239.7 532.0L236.7 533.2ZM215.0 528.7L209.0 528.8L205.2 532.5L200.2 536.3M215.0 504.0L211.5 506.2L206.5 511.2L204.0 516.2L201.0 514.2L198.2 513.3L194.8 512.5L191.5 511.7L189.8 510.0L190.3 507.5L189.0 505.0L187.0 502.5L184.8 501.7L183.2 503.3L180.7 502.0L178.2 500.3L175.7 498.3L173.2 497.5L170.7 495.8L168.2 493.7L165.7 491.7L163.2 490.0L159.8 489.7L156.5 490.3L152.3 491.7L148.2 492.5L143.2 493.3L138.2 494.2L132.3 495.3L126.5 496.3L120.7 496.7L116.5 495.8L114.0 495.3L112.7 497.5L114.8 499.7L116.5 501.7L114.3 503.0L113.2 505.8L115.7 506.7L118.2 507.5L115.7 509.2L114.3 510.8L116.5 512.0L119.8 511.3L123.2 512.0L125.7 515.0L126.5 519.2L125.7 523.3L124.0 526.7L121.5 530.0L118.2 533.3L114.8 536.3M121.5 536.3L123.7 532.0L126.5 527.5L129.0 525.0L130.0 526.3L127.7 531.3L125.7 536.3M130.7 536.3L133.2 530.0L134.8 525.0L135.7 521.7L137.7 521.3L137.3 525.0L135.7 530.0L134.0 536.3M120.3 503.0L123.2 502.0L124.3 504.2L122.0 505.3L120.3 504.7ZM317.0 470.7L318.8 473.2L323.0 474.0L328.0 474.8L331.3 477.3L334.7 479.8L333.0 483.2L330.5 485.7L328.8 489.0L327.7 492.3L326.3 495.3L323.0 494.0L319.7 491.5L317.2 489.3M405.0 417.3L400.5 419.0L396.3 420.7L392.2 422.0L388.0 424.8L383.0 426.5L378.8 427.3L374.7 429.0L370.5 429.0L366.3 430.3L362.2 430.7L358.8 432.3L356.3 434.8L353.0 438.2L350.5 441.5L348.0 444.8L347.2 449.0L346.7 452.3L343.8 454.0L341.7 457.0L342.2 459.8L344.7 462.3L347.2 464.8L349.7 467.0L353.0 468.7L356.0 469.8L357.7 471.5L357.2 474.0L354.7 474.8L352.2 474.0L350.5 472.0L348.0 473.2L345.5 475.7L343.0 479.0L341.7 482.0L344.7 482.3L346.7 484.8L347.2 487.3L350.5 487.0L353.8 486.5L357.2 485.7L360.5 484.0L362.2 482.0L364.3 481.5L366.0 484.0L367.2 487.3L367.7 490.7L365.5 493.2L363.0 495.3L360.5 497.0L358.0 497.3L356.7 500.7L356.0 504.0L355.5 508.2L356.3 511.5L358.8 514.0L361.3 516.5L363.3 519.0L366.0 521.5L368.3 522.7L370.5 520.7L372.2 518.7L374.3 520.7L376.3 524.0L378.8 526.0L381.3 524.8L384.7 524.0L388.0 524.3L390.5 522.7L393.8 521.5L395.0 524.8L395.5 529.0L396.3 533.2L396.7 536.5M331.3 499.8L333.8 498.7L337.2 499.0L341.3 499.8L340.5 502.0L337.2 502.3L334.7 501.5L332.2 501.5ZM353.0 522.7L355.5 520.7L358.8 520.3L361.7 521.5L362.2 523.7L359.7 524.8L356.3 524.8L353.8 524.3ZM405.0 417.3L408.3 417.0L411.7 416.5L412.5 413.2L410.8 409.8L412.5 407.3L413.3 404.0M427.2 486.2L428.3 486.0L432.5 485.7L435.8 484.8L439.2 482.7L442.5 480.7L445.8 479.8L448.7 478.7L450.8 477.3L451.3 475.7L452.5 477.3L455.0 477.3L460.0 477.3L465.0 477.0L469.2 476.5L472.5 477.3L475.8 478.7L479.2 480.3L482.5 482.0L485.0 482.7L483.3 480.7L480.8 478.7L478.3 476.5L475.8 474.0L473.3 472.0L471.3 469.8L473.7 470.7L476.3 472.7L479.2 474.8L481.7 477.0L483.3 478.2L482.0 474.8L480.8 472.3L483.3 472.0L486.3 472.7L485.0 474.8L483.7 477.3L485.0 479.3L487.5 479.0L490.0 480.3L492.5 481.5L495.8 482.3L499.2 482.3L502.5 481.5L500.8 479.8L497.5 478.7L494.2 477.3L491.7 476.5L493.3 475.3L496.3 474.8L499.2 475.7L502.5 476.5L507.0 477.0M507.0 485.7L505.0 487.3L503.7 489.0L505.8 490.7L507.0 491.5M419.5 317.7L422.9 316.9L425.7 318.3L428.6 316.0L433.2 315.4L436.6 317.2L438.9 322.3L437.8 324.0L434.3 324.6L430.9 326.9L428.6 328.6L425.7 327.5L424.6 324.6L421.7 325.2L420.0 323.5L419.2 320.6ZM420.6 303.4L422.9 302.3L425.7 303.4L428.0 305.7L430.0 308.6L432.0 310.9L429.7 312.4L426.9 312.8L424.0 312.4L421.5 310.9L420.0 308.0L419.7 305.1ZM452.1 321.2L454.9 318.9L458.4 317.4L461.2 318.3L464.1 319.5L466.9 318.9L467.5 320.6L465.2 322.3L462.4 323.5L460.1 324.0L458.4 326.3L456.6 327.2L454.9 325.4L453.2 323.5ZM429.2 312.0L433.2 313.2L436.6 313.7L439.5 315.4L442.9 317.2L446.3 318.3L449.2 317.2L452.1 314.9L454.9 312.4L457.2 313.2L460.1 314.3L462.9 313.7L465.8 315.4L468.6 317.2L470.0 318.3M418.3 333.2L421.2 332.6L424.6 334.3L428.0 336.0L430.9 336.6L434.3 336.4L437.8 337.2L440.6 336.8L443.5 334.3L445.8 331.5L447.5 329.2L449.8 330.3L450.3 333.2L452.6 332.6L454.9 334.3L455.5 337.2L454.3 339.5L452.1 341.2L449.8 342.9L450.3 345.8L451.3 349.2L452.1 352.6L451.7 357.2L450.9 361.8L448.6 363.5L445.8 364.1L442.9 365.8L440.0 367.5L437.8 368.6L436.0 367.5L435.5 365.2L436.6 362.4L437.2 359.5L435.5 358.9L433.8 360.6L432.0 363.5L429.7 365.8L427.5 367.5L424.6 368.6L424.6 371.5L421.7 372.7L421.2 375.5L420.6 378.4L417.2 378.7L413.7 378.4L410.9 376.7L408.0 373.2L404.6 369.8L400.0 369.2M418.3 333.2L418.9 336.6L421.2 338.9L424.6 340.6L422.9 343.5L421.2 345.8L420.0 349.2L419.5 351.5L417.2 352.6L414.9 354.3L414.3 357.2L415.4 361.2L417.2 364.6L420.0 367.5L422.9 369.8L424.6 371.5M400.0 369.2L399.3 366.9L399.7 364.1L399.3 361.2L400.0 359.5L403.4 357.8L406.9 356.1L410.3 354.9L413.7 354.3L414.9 354.7M470.0 326.9L467.5 330.9L465.2 334.3L462.4 337.8L459.5 340.0L456.6 341.8L454.3 343.2L453.8 345.8L454.3 349.2L455.5 352.1L457.2 353.8L459.5 352.9L461.2 353.8L460.1 356.1L458.4 357.8L456.6 359.5L456.1 362.4L456.6 365.8L456.1 368.6L454.3 370.9L452.6 372.7L450.9 371.5L450.3 369.2L448.1 368.1L445.2 369.2L442.9 370.9L440.6 373.2L438.3 374.9L436.0 376.7L433.8 378.4L431.5 379.5L430.0 381.2L429.2 383.5L430.7 385.2L430.0 387.5L428.0 388.1L426.5 386.4L425.7 387.5L427.5 390.0M449.2 404.2L450.0 398.3L451.3 391.7L453.3 386.7L455.0 385.8L455.8 389.2L457.5 386.7L459.2 384.2L461.7 386.7L463.3 390.0L462.5 393.3L464.2 395.8L464.7 399.2L462.5 398.3L460.8 395.8L460.8 400.0L460.0 403.3L457.5 402.5L455.8 398.3L454.2 395.0L452.5 399.2L450.8 402.5ZM496.3 368.7L497.5 371.7L497.0 375.8L498.3 379.2L500.8 382.5L502.5 386.7L503.3 390.8L501.7 395.0L499.2 398.3L496.7 400.3L496.3 397.5L497.5 394.2L495.8 390.8L493.3 389.2L490.8 388.7L492.0 386.7L495.0 384.2L495.8 380.0L494.7 375.8L494.2 371.7L495.0 369.2ZM426.7 390.8L424.2 390.0L421.7 392.0L418.7 391.7L417.5 395.0L419.2 397.5L416.7 399.2L414.7 402.5L415.3 405.8L413.3 408.3L410.8 409.2L412.0 412.5L413.0 415.8L410.0 417.0L405.0 416.7M177.3 225.2L178.7 222.3L181.2 219.8L184.1 218.3L187.5 217.8L191.0 217.6L193.4 218.8L194.9 221.3L196.2 223.7L198.3 226.2L199.8 229.1L201.3 231.6L203.2 234.5L205.2 237.5L207.2 239.9L207.9 242.8L208.6 246.3L209.6 249.2L210.9 252.2L210.3 254.6L209.3 257.1L209.6 260.0L210.3 263.4L210.6 266.4L209.3 267.8L207.9 268.6L206.2 267.4L205.0 265.4L204.4 262.5L204.2 259.0L203.7 255.6L203.0 252.2L202.1 248.7L200.5 245.3L198.8 241.9L197.2 238.4L195.4 235.0L193.6 232.1L191.5 229.6L189.0 227.6L186.1 226.2L183.1 225.5L180.2 225.7L178.2 226.2ZM328.3 222.2L326.3 225.5L323.0 229.7L318.8 233.8L314.7 237.2L313.3 239.7L315.5 242.2L319.7 243.0L323.8 241.0L327.7 240.0L328.3 242.2L325.5 243.8L323.0 246.3L325.5 248.0L328.0 249.7L328.8 251.0L324.7 250.5L321.3 249.7L319.3 251.3L320.5 254.7L323.0 258.0L326.3 261.0L330.5 263.0L334.7 264.3L338.8 264.3L342.2 263.3L345.5 264.7L347.2 267.2L347.7 269.7L350.5 271.7L353.8 272.7L357.2 271.3L359.7 272.2L362.2 273.8L365.5 272.7L367.2 270.5L369.7 268.8L373.0 268.3L376.0 269.7L378.8 272.2L382.2 274.7L385.5 276.0L387.2 273.0L388.8 269.7L391.0 267.7L393.8 266.0L396.3 263.8L397.7 260.5L396.3 257.2L393.8 254.7L392.2 251.3L391.3 247.2L393.0 243.0L395.5 238.8L398.8 234.7L402.2 231.3L405.0 229.2M349.9 274.3L353.8 274.3L357.7 273.8L361.7 274.3L365.6 275.3L369.5 276.6L373.4 278.2L376.4 279.7L379.8 280.2L383.2 279.7L386.7 279.9L388.6 281.7L391.1 282.6L394.0 283.1L396.0 281.2L398.4 280.7L400.9 282.2L402.4 284.6L401.7 287.1L402.8 289.5L403.8 292.5L404.3 295.4L403.3 298.3L402.4 300.3L400.4 300.8L398.4 299.3L396.5 297.4L395.0 298.3L393.0 298.3L391.1 296.4L390.3 294.4L388.1 295.4L385.7 294.4L383.7 293.9L381.3 294.4L378.8 295.4L376.4 296.6L374.4 297.8L372.9 297.4L372.5 294.9L371.3 292.5L369.5 290.0L367.7 287.7L367.4 288.5L368.3 291.0L369.3 293.4L370.7 296.2L371.5 298.3L370.3 300.3L368.5 301.8L366.8 303.2L364.1 301.1L361.7 299.8L359.2 298.3L356.8 296.4L354.6 293.9L352.6 291.5L351.1 288.5L349.9 285.1L349.4 281.7L349.7 277.7ZM366.1 304.4L368.0 305.2L370.0 306.2L372.5 307.2L374.9 307.9L376.9 307.4L378.8 306.2L381.8 305.7L385.2 306.2L388.1 305.7L389.6 303.7L389.9 301.3L389.1 298.8L387.2 296.9L384.7 295.6L382.3 294.9L379.8 295.6L377.4 296.9L374.9 298.1L372.9 298.8L371.5 298.8L370.3 300.8L368.5 302.3L366.8 303.4ZM392.1 305.7L393.5 305.2L394.5 307.2L394.0 310.1L392.8 312.1L391.9 310.6L391.6 308.1ZM405.0 304.7L402.8 305.2L400.9 306.7L398.9 308.6L397.5 311.1L398.4 312.3L400.4 312.1L402.8 311.1L405.0 310.1M383.7 312.1L386.2 310.3L388.6 309.9L390.3 311.1L389.6 313.0L388.1 314.5L390.3 315.5L391.1 317.5L389.6 318.7L387.4 319.4L385.7 320.9L383.7 322.8L381.3 324.3L378.8 324.6L377.5 322.8L378.3 320.4L380.3 318.7L382.3 317.0L384.2 315.5L382.7 314.0ZM405.0 317.0L402.8 318.4L400.4 321.4L398.4 323.8L397.9 326.3L399.9 327.7L402.8 326.3L405.0 324.8M380.8 335.0L381.3 332.6L383.2 330.9L385.2 331.7L386.7 333.6L386.2 335.0M373.9 313.0L375.4 312.5L376.9 312.8L375.6 313.6ZM400.7 536.4L402.2 532.0L403.6 528.0L405.6 524.1L407.5 520.2L408.5 516.3L408.3 513.3L406.1 512.4L405.6 509.9L407.1 507.5L407.7 504.0L406.8 501.1L406.6 498.1L407.7 494.7L409.3 491.8L411.3 490.3L411.7 492.3L410.7 494.7L409.7 497.2L410.0 499.6L411.0 502.1L412.3 505.0L413.4 507.5L414.9 506.5L416.4 504.5L417.5 502.1L418.3 499.6L419.3 497.6L421.1 496.2L421.8 494.7L420.5 492.3L419.1 490.3L418.3 488.8L420.8 487.8L423.7 486.9L427.2 486.7M409.5 527.1L410.7 524.1L412.0 521.2L412.9 518.2L413.9 515.3L414.9 514.5L416.4 515.5L415.6 517.7L416.2 519.2L418.1 520.0L416.9 522.2L415.9 525.1L414.9 528.0L413.9 529.0L411.5 528.2ZM377.8 322.5L379.3 319.6L381.3 317.2L383.7 314.7L386.2 311.8L388.6 310.6L390.1 312.3L389.1 314.7L390.1 316.7L388.6 319.1L386.2 320.1L384.7 322.1L382.3 323.0L379.8 324.3ZM391.1 307.8L392.5 305.9L394.3 306.1L394.5 308.3L393.5 310.8L392.1 312.3L391.1 310.3ZM397.9 310.8L399.4 308.3L401.4 307.4L403.3 308.8L403.1 311.3L400.9 312.3L398.9 312.3ZM408.4 310.8L410.7 308.8L413.1 308.3L414.6 309.8L413.6 312.7L411.7 313.7L409.7 312.7ZM398.4 319.6L400.4 317.2L402.8 315.7L405.8 316.2L408.7 315.7L411.2 317.2L411.7 320.1L410.2 323.0L410.7 325.5L408.7 328.4L406.8 327.5L404.8 325.0L402.4 324.0L399.9 326.0L397.9 326.5L399.4 324.0L401.4 322.1L399.4 321.1ZM394.5 334.3L397.5 332.8L400.4 330.9L403.3 329.9L406.3 330.9L407.7 333.3L407.3 336.3L407.7 339.2L407.1 343.1L407.7 346.6L405.3 348.0L402.8 347.1L401.4 350.0L399.4 352.5L397.5 352.0L395.0 350.0L393.0 348.0L392.4 345.6L394.0 343.6L396.5 342.2L398.9 341.7L401.4 341.2L402.8 338.7L401.4 336.8L399.4 337.7L397.5 336.8L395.7 335.5ZM380.8 332.8L382.3 330.6L384.7 329.9L386.7 331.4L387.6 333.8L386.7 335.8L387.5 337.7L385.7 338.7L383.7 337.7L382.3 339.2L381.6 337.1L380.6 335.3ZM383.2 348.0L384.7 344.6L386.2 343.1L388.1 344.6L389.6 347.1L391.1 350.0L392.1 353.4L391.6 356.9L390.1 359.3L388.1 359.8L386.7 357.8L385.7 354.9L384.7 351.5ZM393.0 351.0L394.5 350.2L396.0 352.5L395.5 354.4L394.0 353.7Z" fill="none" stroke="#000" stroke-width="0.7" stroke-linejoin="round"/>
</g>
<rect x="99.6" y="91.8" width="408.1" height="444.0" fill="none" stroke="#000" stroke-width="1.3"/>
<line x1="87.8" y1="105.8" x2="99.6" y2="105.8" stroke="#000" stroke-width="1.1"/>
<text x="77.4" y="111.5" font-size="16" text-anchor="end">45°E</text>
<line x1="87.8" y1="188.9" x2="99.6" y2="188.9" stroke="#000" stroke-width="1.1"/>
<text x="77.4" y="194.6" font-size="16" text-anchor="end">60°E</text>
<line x1="87.8" y1="250.8" x2="99.6" y2="250.8" stroke="#000" stroke-width="1.1"/>
<text x="77.4" y="256.5" font-size="16" text-anchor="end">75°E</text>
<line x1="87.8" y1="304.7" x2="99.6" y2="304.7" stroke="#000" stroke-width="1.1"/>
<text x="77.4" y="310.4" font-size="16" text-anchor="end">90°E</text>
<line x1="87.8" y1="358.9" x2="99.6" y2="358.9" stroke="#000" stroke-width="1.1"/>
<text x="77.4" y="364.6" font-size="16" text-anchor="end">105°E</text>
<line x1="87.8" y1="421.9" x2="99.6" y2="421.9" stroke="#000" stroke-width="1.1"/>
<text x="77.4" y="427.6" font-size="16" text-anchor="end">120°E</text>
<line x1="87.8" y1="509.2" x2="99.6" y2="509.2" stroke="#000" stroke-width="1.1"/>
<text x="77.4" y="514.9" font-size="16" text-anchor="end">135°E</text>
<line x1="507.7" y1="92.5" x2="519" y2="92.5" stroke="#000" stroke-width="1.1"/>
<text x="529.5" y="98.2" font-size="16">45°W</text>
<line x1="507.7" y1="180.8" x2="519" y2="180.8" stroke="#000" stroke-width="1.1"/>
<text x="529.5" y="186.5" font-size="16">60°W</text>
<line x1="507.7" y1="245.0" x2="519" y2="245.0" stroke="#000" stroke-width="1.1"/>
<text x="529.5" y="250.7" font-size="16">75°W</text>
<line x1="507.7" y1="300.6" x2="519" y2="300.6" stroke="#000" stroke-width="1.1"/>
<text x="529.5" y="306.3" font-size="16">90°W</text>
<line x1="507.7" y1="355.8" x2="519" y2="355.8" stroke="#000" stroke-width="1.1"/>
<text x="529.5" y="361.5" font-size="16">105°W</text>
<line x1="507.7" y1="419.2" x2="519" y2="419.2" stroke="#000" stroke-width="1.1"/>
<text x="529.5" y="424.9" font-size="16">120°W</text>
<line x1="507.7" y1="505.6" x2="519" y2="505.6" stroke="#000" stroke-width="1.1"/>
<text x="529.5" y="511.3" font-size="16">135°W</text>
<text x="494.6" y="87.8" font-size="12.2" font-weight="bold" text-anchor="end">July H50Z (m) WRF-Interim Bias</text>
<text x="303.6" y="600.5" font-size="15" text-anchor="middle">Bias (m)</text>
<rect x="106.30" y="624.7" width="26.60" height="24.3" fill="#00007f"/>
<rect x="132.60" y="624.7" width="26.60" height="24.3" fill="#0000a4"/>
<rect x="158.90" y="624.7" width="26.60" height="24.3" fill="#0000c8"/>
<rect x="185.20" y="624.7" width="26.60" height="24.3" fill="#0000ed"/>
<rect x="211.50" y="624.7" width="26.60" height="24.3" fill="#2424ff"/>
<rect x="237.80" y="624.7" width="26.60" height="24.3" fill="#6d6dff"/>
<rect x="264.10" y="624.7" width="26.60" height="24.3" fill="#b6b6ff"/>
<rect x="290.40" y="624.7" width="26.60" height="24.3" fill="#ffffff"/>
<rect x="316.70" y="624.7" width="26.60" height="24.3" fill="#ffb6b6"/>
<rect x="343.00" y="624.7" width="26.60" height="24.3" fill="#ff6d6d"/>
<rect x="369.30" y="624.7" width="26.60" height="24.3" fill="#ff2424"/>
<rect x="395.60" y="624.7" width="26.60" height="24.3" fill="#ed0000"/>
<rect x="421.90" y="624.7" width="26.60" height="24.3" fill="#c80000"/>
<rect x="448.20" y="624.7" width="26.60" height="24.3" fill="#a40000"/>
<rect x="474.50" y="624.7" width="26.30" height="24.3" fill="#7f0000"/>
<text transform="translate(132.6 673.8) rotate(-90)" font-size="13.9" text-anchor="middle" dy="5">-140</text>
<text transform="translate(158.9 673.8) rotate(-90)" font-size="13.9" text-anchor="middle" dy="5">-120</text>
<text transform="translate(185.2 673.8) rotate(-90)" font-size="13.9" text-anchor="middle" dy="5">-100</text>
<text transform="translate(211.5 673.8) rotate(-90)" font-size="13.9" text-anchor="middle" dy="5">-80</text>
<text transform="translate(237.8 673.8) rotate(-90)" font-size="13.9" text-anchor="middle" dy="5">-60</text>
<text transform="translate(264.1 673.8) rotate(-90)" font-size="13.9" text-anchor="middle" dy="5">-40</text>
<text transform="translate(290.4 673.8) rotate(-90)" font-size="13.9" text-anchor="middle" dy="5">-20</text>
<text transform="translate(316.7 673.8) rotate(-90)" font-size="13.9" text-anchor="middle" dy="5">20</text>
<text transform="translate(343.0 673.8) rotate(-90)" font-size="13.9" text-anchor="middle" dy="5">40</text>
<text transform="translate(369.3 673.8) rotate(-90)" font-size="13.9" text-anchor="middle" dy="5">60</text>
<text transform="translate(395.6 673.8) rotate(-90)" font-size="13.9" text-anchor="middle" dy="5">80</text>
<text transform="translate(421.9 673.8) rotate(-90)" font-size="13.9" text-anchor="middle" dy="5">100</text>
<text transform="translate(448.2 673.8) rotate(-90)" font-size="13.9" text-anchor="middle" dy="5">120</text>
<text transform="translate(474.5 673.8) rotate(-90)" font-size="13.9" text-anchor="middle" dy="5">140</text>
</svg></body></html>
